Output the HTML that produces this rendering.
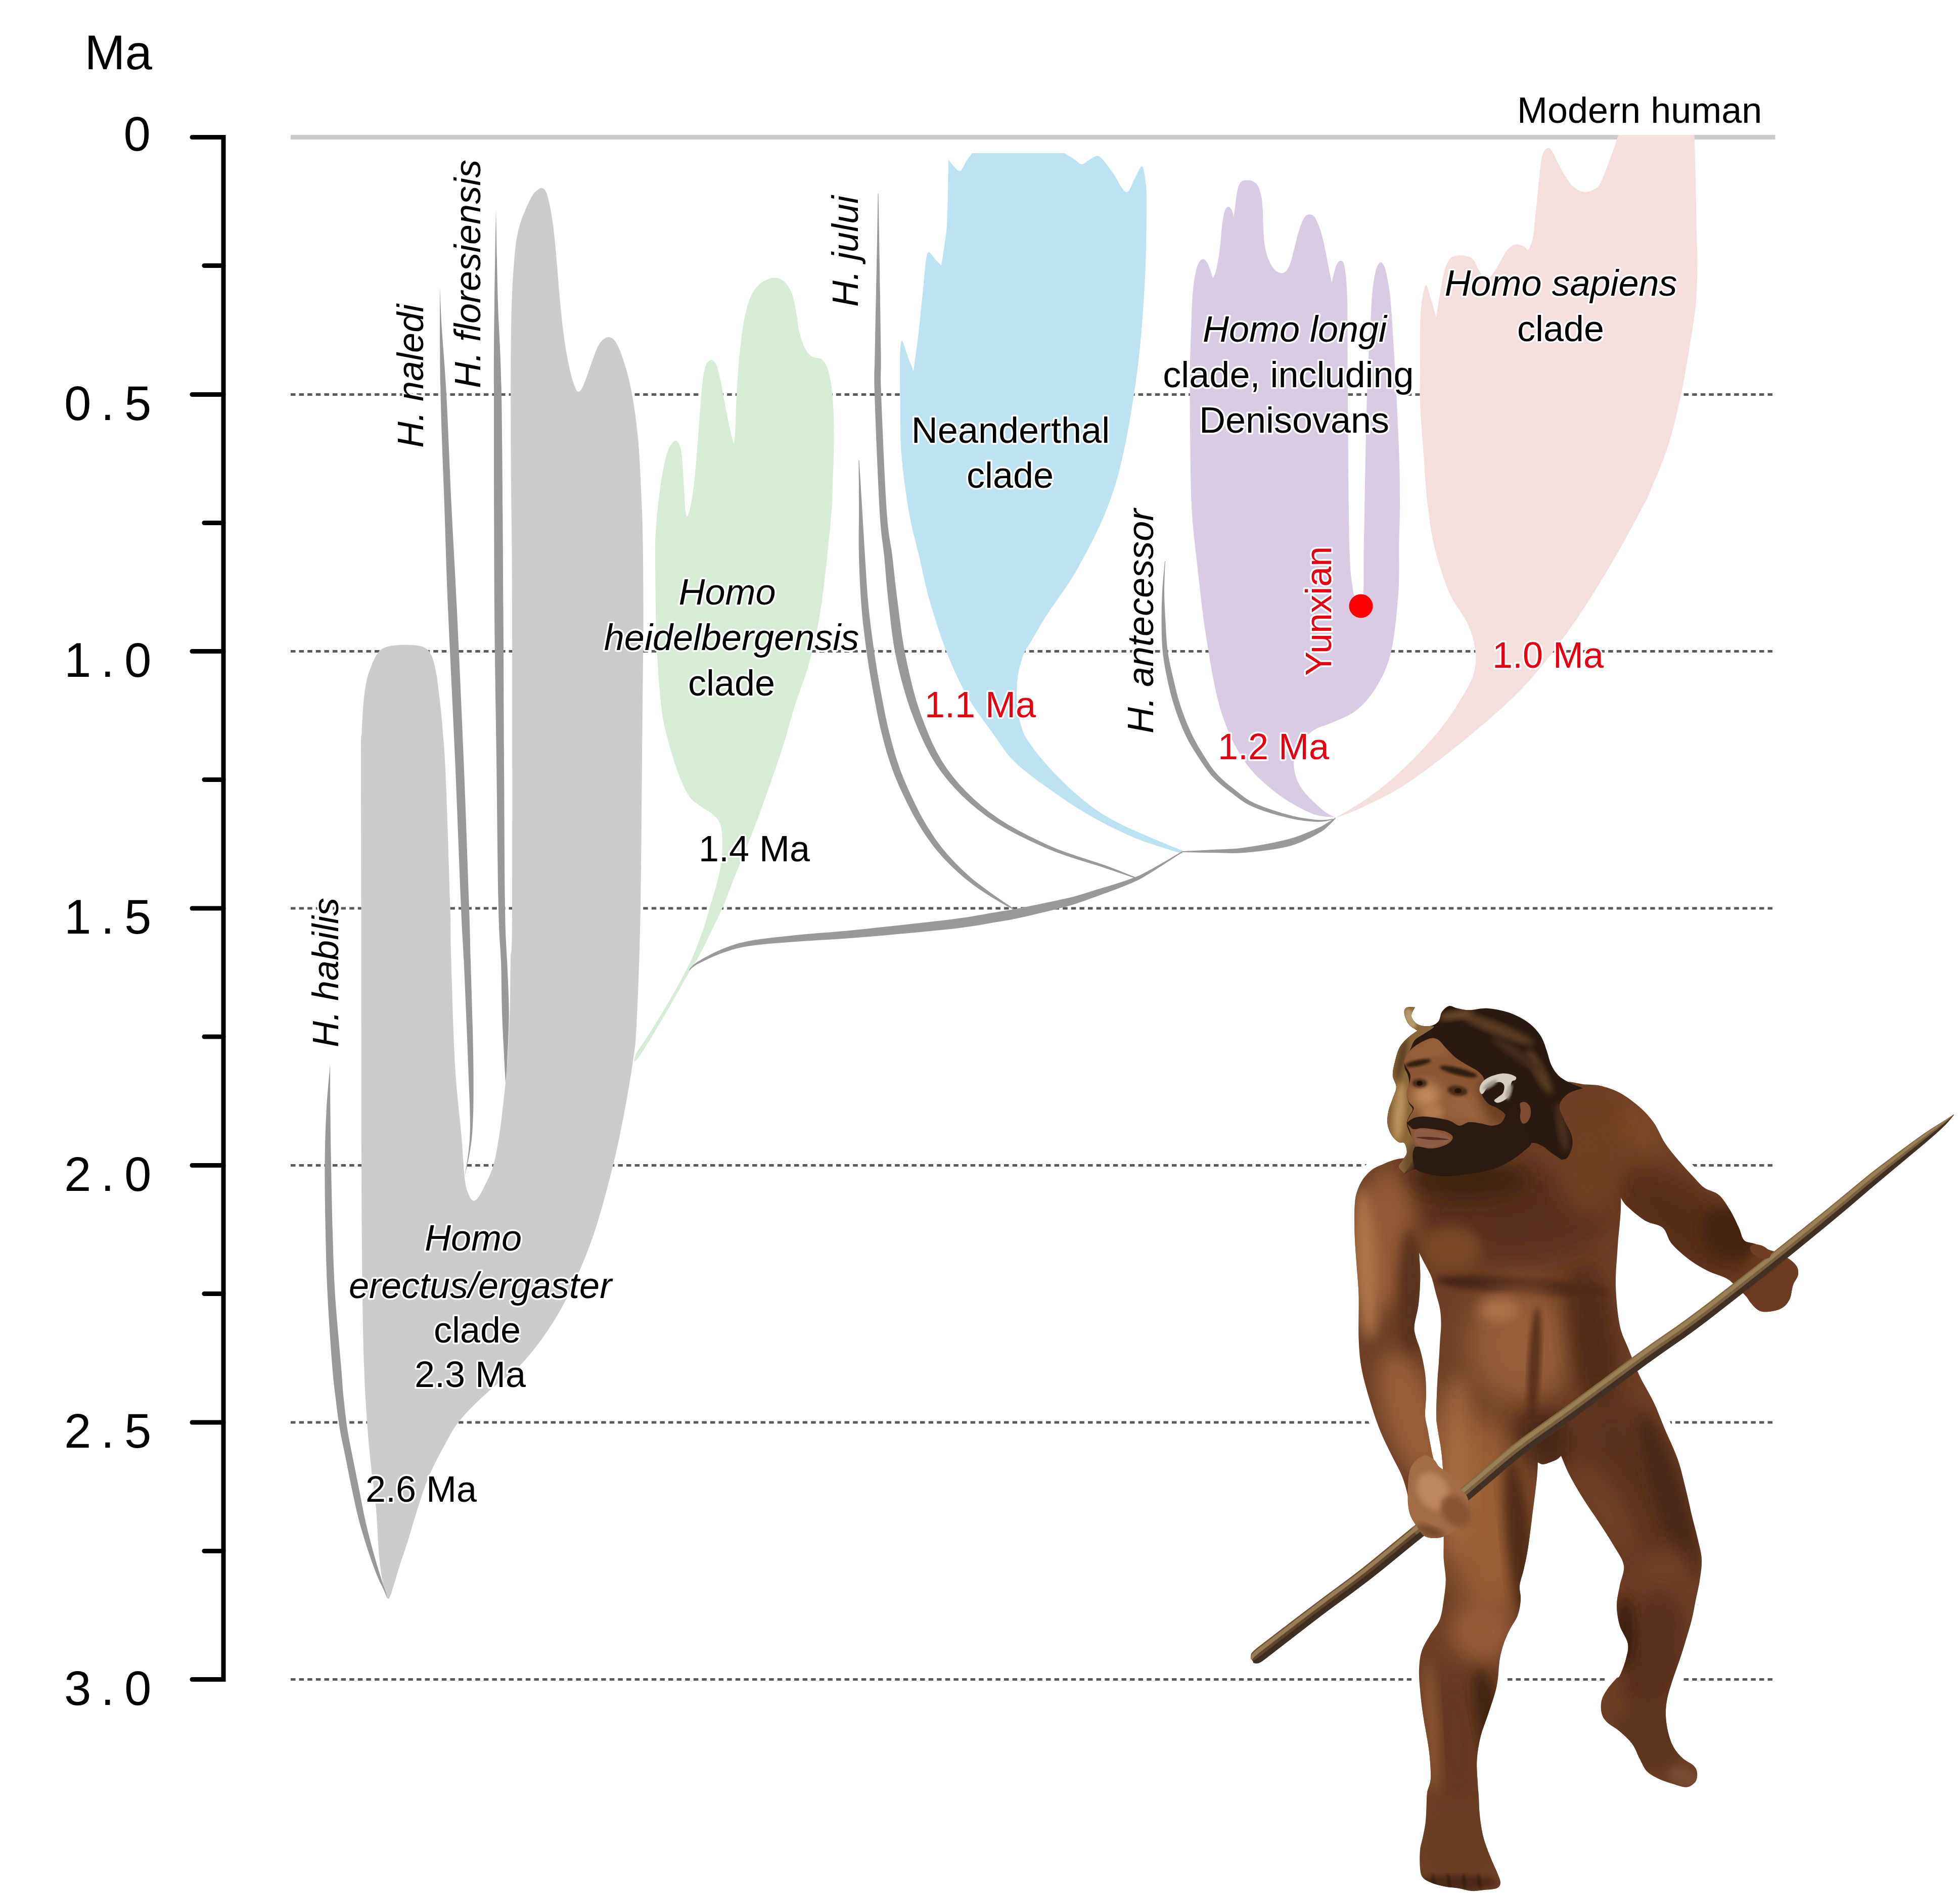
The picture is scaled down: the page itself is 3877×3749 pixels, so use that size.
<!DOCTYPE html>
<html lang="en"><head><meta charset="utf-8"><title>Homo phylogeny</title>
<style>
html,body{margin:0;padding:0;background:#fff}
body{width:3877px;height:3749px;overflow:hidden}
svg{display:block;font-family:"Liberation Sans",sans-serif}
</style></head><body>
<svg width="3877" height="3749" viewBox="0 0 3877 3749">
<rect width="3877" height="3749" fill="#fff"/>
<rect x="575" y="267" width="2936.5" height="9" fill="#cacaca"/>
<line x1="575" y1="780.5" x2="3512" y2="780.5" stroke="#5a5a5a" stroke-width="5.2" stroke-dasharray="9.5 7.1"/>
<line x1="575" y1="1288.5" x2="3512" y2="1288.5" stroke="#5a5a5a" stroke-width="5.2" stroke-dasharray="9.5 7.1"/>
<line x1="575" y1="1797" x2="3512" y2="1797" stroke="#5a5a5a" stroke-width="5.2" stroke-dasharray="9.5 7.1"/>
<line x1="575" y1="2305.5" x2="3512" y2="2305.5" stroke="#5a5a5a" stroke-width="5.2" stroke-dasharray="9.5 7.1"/>
<line x1="575" y1="2814" x2="3512" y2="2814" stroke="#5a5a5a" stroke-width="5.2" stroke-dasharray="9.5 7.1"/>
<line x1="575" y1="3322.5" x2="3512" y2="3322.5" stroke="#5a5a5a" stroke-width="5.2" stroke-dasharray="9.5 7.1"/>
<path d="M768.5 3163C765.3 3164 762.7 3156.8 759.6 3143C756.5 3129.2 752.6 3106.3 750 3080C747.4 3053.7 746.7 3016.7 743.8 2985C740.9 2953.3 735.9 2921.7 732.7 2890C729.5 2858.3 726.9 2826.7 724.8 2795C722.7 2763.3 721.3 2738.5 720 2700C718.7 2661.5 717.8 2630.7 717 2564C716.2 2497.3 715.4 2427.3 715 2300C714.6 2172.7 714.6 1935 714.5 1800C714.4 1665 714 1547.9 714.1 1490C714.2 1432.1 714.8 1465.2 715.3 1452.6C715.8 1440 716.4 1427.3 717.2 1414.6C718.1 1401.9 719 1388.2 720.4 1376.6C721.8 1365 723.4 1354.3 725.5 1345C727.6 1335.7 730.4 1328.3 733.1 1320.9C735.8 1313.5 739.2 1306 741.9 1300.7C744.6 1295.4 746.8 1292.4 749.5 1289.3C752.2 1286.2 754.6 1284.2 758.4 1282.3C762.2 1280.4 766.8 1279 772.3 1277.9C777.8 1276.9 785 1276.3 791.3 1276C797.6 1275.7 804.4 1275.8 810.3 1276C816.2 1276.2 821.9 1276.4 826.8 1277.2C831.6 1278 835.8 1279.2 839.4 1281C843 1282.8 845.8 1284.9 848.3 1288C850.8 1291.1 852.7 1294.8 854.6 1299.4C856.5 1304.1 858.1 1309.4 859.7 1315.9C861.3 1322.5 862.8 1330.7 864.1 1338.7C865.4 1346.7 866.1 1354.5 867.3 1364C868.5 1373.5 869.9 1385 871.1 1395.6C872.3 1406.1 873.3 1416.7 874.3 1427.3C875.2 1437.9 876 1448.5 876.8 1459C877.6 1469.5 878.3 1471.7 879.3 1490C880.3 1508.3 881.1 1517.8 883 1569C884.9 1620.2 888.9 1741.8 890.5 1797C892.1 1852.2 890.9 1848.5 892.5 1900C894.1 1951.5 896.7 2048.8 900 2106C903.3 2163.2 909.2 2205.8 912.4 2243C915.6 2280.2 916.9 2309.8 919 2329C921.1 2348.2 922.4 2350.3 925 2358C927.6 2365.7 931.4 2373 934.7 2375C938 2377 941 2374.8 945 2370C949 2365.2 953.6 2356.7 958.7 2346C963.8 2335.3 970.9 2323.2 975.8 2306C980.7 2288.8 984.6 2265 988 2243C991.4 2221 993.9 2196.8 996.4 2174C998.9 2151.2 1001.3 2134.5 1003.3 2106C1005.3 2077.5 1007.3 2037.3 1008.4 2003C1009.5 1968.7 1009.2 1933.8 1010 1900C1010.8 1866.2 1012.5 1916.7 1013 1800C1013.5 1683.3 1013.3 1340 1013 1200C1012.7 1060 1011.5 1021.6 1011 960C1010.5 898.4 1010.4 868.4 1010.3 830.5C1010.2 792.6 1010.1 765.1 1010.3 732.4C1010.5 699.7 1010.8 661.5 1011.3 634.3C1011.8 607 1012.6 588 1013.5 568.9C1014.4 549.8 1015.5 535.2 1016.8 519.9C1018.1 504.6 1019 490.4 1021.1 477.3C1023.2 464.2 1025.9 452.3 1029.2 441.4C1032.5 430.5 1036.6 421.2 1040.7 411.9C1044.8 402.6 1049.7 392.1 1053.8 385.8C1057.9 379.5 1062.2 376.6 1065.2 374.3C1068.2 372 1069.3 371.2 1071.8 372C1074.2 372.8 1077.5 374.2 1079.9 379.2C1082.4 384.2 1084.3 392.3 1086.5 402.1C1088.7 411.9 1091.1 425 1093 438.1C1094.9 451.2 1096.3 464.2 1097.9 480.6C1099.5 497 1101.2 517.1 1102.8 536.2C1104.4 555.3 1105.9 576 1107.7 595.1C1109.5 614.2 1111.4 633.3 1113.6 650.7C1115.8 668.1 1118.2 685 1120.8 699.7C1123.4 714.4 1126.3 728 1129 738.9C1131.7 749.8 1134.8 759.1 1137.2 765.1C1139.7 771.1 1141.2 774.6 1143.7 774.9C1146.2 775.2 1148.9 772.2 1151.9 766.7C1154.9 761.2 1158.2 751.7 1161.7 742.2C1165.2 732.7 1169.6 719 1173.1 709.5C1176.6 700 1179.6 691.3 1182.9 685C1186.2 678.7 1189.2 674.9 1192.7 671.9C1196.2 668.9 1200.4 666.7 1204.2 667C1208 667.3 1212.1 669.4 1215.6 673.5C1219.1 677.6 1222.1 683.9 1225.4 691.5C1228.7 699.1 1232 708.7 1235.3 719.3C1238.6 729.9 1242.1 742.2 1245.1 755.3C1248.1 768.4 1250.8 782.5 1253.2 797.8C1255.7 813.1 1257.9 829.5 1259.8 846.9C1261.7 864.3 1262.8 869.5 1264.7 902.4C1266.6 935.2 1269.7 994.4 1271 1044C1272.3 1093.6 1272.4 1157.3 1272.6 1200C1272.8 1242.7 1272.4 1250 1272 1300C1271.6 1350 1270.7 1429.8 1270 1500C1269.3 1570.2 1268.8 1657.7 1268 1721C1267.2 1784.3 1266.6 1827.2 1265 1880C1263.4 1932.8 1260.8 2001.3 1258.6 2038C1256.4 2074.7 1255.9 2073 1252 2100C1248.1 2127 1241.6 2165.7 1235 2200C1228.4 2234.3 1222.5 2266 1212.5 2306C1202.5 2346 1188.8 2399.3 1175 2440C1161.2 2480.7 1145 2518.3 1130 2550C1115 2581.7 1101.7 2605 1085 2630C1068.3 2655 1049.4 2679.9 1030 2700C1010.6 2720.1 988.3 2732.8 968.6 2750.7C948.9 2768.6 926.4 2789.7 911.6 2807.6C896.8 2825.5 890.6 2839 880 2858C869.4 2877 857 2900.4 848 2921.6C839 2942.8 832.8 2963.9 826 2985C819.2 3006.1 812.8 3029.5 807 3048C801.2 3066.5 795.7 3081.2 791 3096C786.3 3110.8 782.4 3125.8 778.6 3137C774.9 3148.2 771.7 3162 768.5 3163Z" fill="#cccccc"/>
<path d="M653 2106C651.8 2121.7 647.2 2166.7 645.5 2200C643.8 2233.3 642.8 2266 642.5 2306C642.2 2346 643.1 2397 644 2440C644.9 2483 645.8 2520.7 648 2564C650.2 2607.3 654.4 2666.8 657 2700C659.6 2733.2 661 2741.9 663.5 2763C666 2784.1 668.8 2807.1 672 2826.6C675.2 2846.1 678.9 2860.6 682.8 2880C686.7 2899.4 690.9 2921.9 695.4 2943C699.9 2964.1 704.2 2985.5 709.7 3006.7C715.2 3027.9 722.7 3051.5 728.7 3070C734.8 3088.5 741.3 3105.7 746 3117.5C750.7 3129.3 753.5 3133.6 757 3141C760.5 3148.4 765.3 3158.5 767 3162C765.8 3158.5 762.4 3148.4 760 3141C757.6 3133.6 756 3129.3 752.4 3117.5C748.8 3105.7 743.2 3088.5 738.2 3070C733.2 3051.5 727 3027.9 722.3 3006.7C717.5 2985.5 713.9 2964.1 709.7 2943C705.5 2921.9 700.8 2899.4 697 2880C693.2 2860.6 689.9 2846.1 687 2826.6C684.1 2807.1 681.6 2784.1 679.5 2763C677.4 2741.9 677.2 2733.2 674.5 2700C671.8 2666.8 665.8 2607.3 663 2564C660.2 2520.7 659.3 2483 658 2440C656.7 2397 655.8 2346 655 2306C654.2 2266 653.8 2233.3 653.5 2200C653.2 2166.7 653.1 2121.7 653 2106Z" fill="#999999"/>
<path d="M870 569C870.2 604.2 870 708.2 871.5 780C873 851.8 876.6 930 879 1000C881.4 1070 882.5 1116.7 886 1200C889.5 1283.3 895.7 1400.5 900 1500C904.3 1599.5 909.1 1730.3 912 1797C914.9 1863.7 915.2 1848.5 917.5 1900C919.8 1951.5 924 2048.8 926 2106C928 2163.2 930.8 2205.8 929.6 2243C928.4 2280.2 920.8 2314.7 919 2329C921.5 2314.7 931.1 2280.2 934 2243C936.9 2205.8 936.9 2163.2 936.4 2106C935.9 2048.8 932.4 1951.5 931 1900C929.6 1848.5 930.3 1863.7 928 1797C925.7 1730.3 921.1 1599.5 917 1500C912.9 1400.5 907.5 1283.3 903.5 1200C899.5 1116.7 896.4 1070 893 1000C889.6 930 886.2 838.3 883 780C879.8 721.7 876.2 685.2 874 650C871.8 614.8 870.7 582.5 870 569Z" fill="#999999"/>
<path d="M981 415C980.5 445.8 978.7 539.2 978 600C977.3 660.8 977 680 977 780C977 880 977.2 1080 978 1200C978.8 1320 980.7 1400.5 982 1500C983.3 1599.5 984.5 1730.3 986 1797C987.5 1863.7 989.8 1865.7 991 1900C992.2 1934.3 991.8 1968.7 993 2003C994.2 2037.3 996.8 2082.8 998 2106C999.2 2129.2 999.7 2136 1000 2142C1000.5 2136 1001.9 2129.2 1003 2106C1004.1 2082.8 1006.7 2037.3 1006.7 2003C1006.7 1968.7 1004.3 1934.3 1003 1900C1001.7 1865.7 1000 1863.7 999 1797C998 1730.3 997.6 1599.5 997 1500C996.4 1400.5 996.3 1320 995.5 1200C994.7 1080 993.8 880 992 780C990.2 680 986.8 660.8 985 600C983.2 539.2 981.7 445.8 981 415Z" fill="#999999"/>
<path d="M1296 1100C1295.8 1060.5 1297 1055 1298.1 1037.2C1299.2 1019.4 1300.8 1007.7 1302.5 992.9C1304.2 978.1 1306.2 962.4 1308.4 948.6C1310.6 934.8 1313.1 921 1315.8 910.2C1318.5 899.4 1321.2 890 1324.7 883.6C1328.2 877.2 1333 871.7 1336.5 871.7C1340 871.7 1343.2 876.7 1345.4 883.6C1347.6 890.5 1348.6 899.8 1349.8 913.1C1351 926.4 1351.8 947.6 1352.8 963.4C1353.8 979.2 1354.7 997.9 1355.7 1007.7C1356.7 1017.6 1358.2 1020 1358.7 1022.5C1359.7 1020 1362.4 1017.6 1364.6 1007.7C1366.8 997.9 1369.8 980.6 1372 963.4C1374.2 946.1 1376.2 923.9 1377.9 904.2C1379.6 884.5 1380.8 864.8 1382.3 845.1C1383.8 825.4 1385.2 802.8 1386.7 786C1388.2 769.2 1389.5 755.4 1391.2 744.6C1392.9 733.8 1394.4 726.4 1397.1 721C1399.8 715.6 1404 711.6 1407.4 712.1C1410.9 712.6 1414.8 717 1417.8 723.9C1420.8 730.8 1422.7 742.2 1425.2 753.5C1427.7 764.8 1430.1 779.1 1432.6 791.9C1435.1 804.7 1437.5 818.5 1440 830.3C1442.5 842.1 1445.3 854.8 1447.3 862.9C1449.3 871 1451 876.4 1451.8 879.1C1452.3 873.4 1453.9 860.6 1454.7 845.1C1455.5 829.6 1455.8 805.7 1456.8 786C1457.8 766.3 1459 746.6 1460.6 726.9C1462.2 707.2 1464.4 685 1466.6 667.8C1468.8 650.5 1470.7 637.2 1473.9 623.4C1477.1 609.6 1480.9 595.3 1485.8 585C1490.7 574.7 1496.1 567.3 1503.5 561.4C1510.9 555.5 1522.2 550.4 1530.1 549.6C1538 548.9 1544.9 552 1550.8 556.9C1556.7 561.8 1561.7 569.5 1565.6 579.1C1569.5 588.7 1572 602.3 1574.4 614.6C1576.9 626.9 1577.8 641.7 1580.3 653C1582.8 664.3 1585.8 674.5 1589.2 682.6C1592.7 690.7 1597 697.6 1601 701.8C1605 706 1609 706.2 1612.9 707.7C1616.9 709.2 1621 707.9 1624.7 710.6C1628.4 713.3 1632 717.2 1635 723.9C1638 730.5 1640.4 740.1 1642.4 750.5C1644.4 760.9 1645.8 772.7 1646.9 786C1648 799.3 1648.8 813 1649.2 830.3C1649.6 847.5 1649.6 867.3 1649.2 889.5C1648.8 911.7 1647.8 941.2 1646.9 963.4C1646 985.6 1647.4 985.2 1643.9 1022.5C1640.4 1059.8 1632.8 1140.2 1626 1187C1619.2 1233.8 1612.2 1267.5 1603 1303C1593.8 1338.5 1579.3 1373.3 1571 1400C1562.7 1426.7 1559.5 1441.9 1553 1463C1546.5 1484.1 1539 1506.1 1532 1526.6C1525 1547 1518 1566.3 1511 1585.7C1504 1605.1 1497 1624.4 1490 1642.7C1483 1661 1476 1678 1469 1695.5C1462 1713 1454.5 1731.1 1447.8 1748C1441.1 1764.9 1435.8 1780.6 1428.8 1796.8C1421.8 1813 1413.3 1829.5 1405.8 1845C1398.3 1860.5 1390.5 1876.8 1383.6 1889.5C1376.7 1902.2 1374.1 1904.7 1364.6 1921C1355.1 1937.3 1338.3 1967.5 1326.7 1987.6C1315.1 2007.7 1305.6 2024 1295 2041.4C1284.4 2058.8 1270.2 2082.2 1263.3 2092C1256.4 2101.8 1255.4 2098.7 1253.8 2100C1254.3 2097.6 1256.5 2088.2 1257 2085.8C1262.3 2077.8 1277.1 2056.5 1288.7 2038C1300.3 2019.5 1314.1 1997.2 1326.7 1975C1339.3 1952.8 1354 1927.2 1364.6 1905C1375.1 1882.8 1383.5 1860 1390 1842C1396.5 1824 1398.7 1812.5 1403.4 1796.8C1408.1 1781.1 1414.1 1763.1 1418 1748C1421.9 1732.9 1424.8 1720 1426.6 1706C1428.4 1692 1429.1 1676.7 1428.8 1664C1428.5 1651.3 1427.7 1638.8 1424.5 1630C1421.3 1621.2 1416.5 1617 1409.8 1611C1403.1 1605 1392.2 1600 1384.4 1594C1376.6 1588 1370.1 1585.5 1363 1575C1355.9 1564.5 1349 1549.7 1342 1531C1335 1512.3 1326.6 1484.8 1321 1463C1315.4 1441.2 1312.1 1431.5 1308.4 1400C1304.7 1368.5 1301.1 1324 1299 1274C1296.9 1224 1296.2 1139.5 1296 1100Z" fill="#d6ecd5"/>
<path d="M1876 316C1877.7 318 1882.1 324.3 1886 328C1889.9 331.7 1895.2 339.7 1899.5 338C1903.8 336.3 1908.1 323.8 1912 318C1915.9 312.2 1921.2 305.5 1923 303C1953.4 303 2075.1 303 2105.5 303C2108.8 305 2119.2 311.3 2125 315C2130.8 318.7 2134.5 325.2 2140 325C2145.5 324.8 2152.2 316.5 2158 314C2163.8 311.5 2168 305.7 2175 310C2182 314.3 2191.2 328.3 2200 340C2208.8 351.7 2220 378 2227.5 380C2235 382 2239.8 360.5 2245 352C2250.2 343.5 2255.5 327.7 2259 329C2262.5 330.3 2264.5 347.7 2266 360C2267.5 372.3 2268.2 371.7 2268 403C2267.8 434.3 2267.8 494.8 2265 548C2262.2 601.2 2258.2 663.8 2251 722C2243.8 780.2 2232.7 848.5 2222 897C2211.3 945.5 2202.5 974.3 2187 1013C2171.5 1051.7 2148.3 1095.2 2129 1129C2109.7 1162.8 2085.5 1193.3 2071 1216C2056.5 1238.7 2049.8 1251.5 2042 1265C2034.2 1278.5 2028.9 1283.8 2024 1297C2019.1 1310.2 2014.6 1326.5 2012.7 1344C2010.8 1361.5 2010.8 1384.7 2012.7 1402C2014.6 1419.3 2019.5 1435.8 2024 1448C2028.5 1460.2 2033.8 1466 2040 1475C2046.2 1484 2052.7 1492.2 2061 1502C2069.3 1511.8 2078.5 1522.3 2090 1534C2101.5 1545.7 2116.5 1560.3 2130 1572C2143.5 1583.7 2157.3 1594.7 2171 1604C2184.7 1613.3 2198.3 1620.8 2212 1628C2225.7 1635.2 2238.3 1640.5 2253 1647C2267.7 1653.5 2285.7 1661 2300 1667C2314.3 1673 2332.5 1680.3 2339 1683C2339 1684 2339 1688 2339 1689C2332.5 1687 2314.3 1681.7 2300 1677C2285.7 1672.3 2267.7 1666.7 2253 1661C2238.3 1655.3 2225.7 1649.5 2212 1643C2198.3 1636.5 2184.7 1629.5 2171 1622C2157.3 1614.5 2143.5 1606.5 2130 1598C2116.5 1589.5 2105 1581.5 2090 1571C2075 1560.5 2055 1546.8 2040 1535C2025 1523.2 2012.3 1513.5 2000 1500C1987.7 1486.5 1980.3 1474.2 1966 1454C1951.7 1433.8 1929.5 1405.7 1914 1378.6C1898.5 1351.5 1885.6 1323.4 1873 1291.5C1860.4 1259.6 1847.7 1218.9 1838.5 1187C1829.3 1155.1 1824.8 1129 1818 1100C1811.2 1071 1803.8 1046.8 1798 1013C1792.2 979.2 1785.9 935.8 1783 897C1780.1 858.2 1781 809.5 1780.5 780C1780 750.5 1779.9 735 1780 720C1780.1 705 1780.4 697.7 1781 690C1781.6 682.3 1782.3 675.3 1783.5 674C1784.7 672.7 1785.9 676.7 1788 682C1790.1 687.3 1792.8 697.3 1796 706C1799.2 714.7 1805.2 729.3 1807 734C1808.8 720 1814.7 679 1818 650C1821.3 621 1824.7 583 1827 560C1829.3 537 1830.4 522.2 1832 512C1833.6 501.8 1834.8 500.5 1836.5 499C1838.2 497.5 1839.6 500.5 1842 503C1844.4 505.5 1847.7 510.3 1851 514C1854.3 517.7 1860.2 523.2 1862 525C1863.2 517.5 1867.2 493.5 1869 480C1870.8 466.5 1872 460.7 1873 444C1874 427.3 1874.5 401.3 1875 380C1875.5 358.7 1875.8 326.7 1876 316Z" fill="#bde2f1"/>
<path d="M2354 838.5C2353.5 792.2 2353.6 755.1 2354 722C2354.4 688.9 2355.7 662.8 2356.5 640C2357.3 617.2 2357.7 601 2358.9 585.3C2360.1 569.5 2361.8 556.1 2363.7 545.5C2365.6 534.9 2367.7 527.1 2370.3 521.6C2373 516.1 2376.5 512.4 2379.6 512.4C2382.7 512.4 2385.6 515.2 2388.9 521.6C2392.2 528 2397.7 545.9 2399.5 550.8C2400.6 547.7 2403.9 542 2406.1 532.3C2408.3 522.6 2410.8 508 2412.8 492.5C2414.8 477 2416.3 452.2 2418.1 439.4C2419.9 426.6 2421.4 420.6 2423.4 415.5C2425.4 410.4 2427.8 408.9 2430 408.9C2432.2 408.9 2434.8 412.2 2436.6 415.5C2438.4 418.8 2439.9 426.6 2440.6 428.8C2441.1 425.3 2442.2 416 2443.3 407.6C2444.4 399.2 2445.5 386.1 2447.3 378.4C2449.1 370.6 2451 364.7 2453.9 361.1C2456.8 357.5 2460.5 357 2464.5 356.6C2468.5 356.2 2473.8 356.6 2477.8 358.5C2481.8 360.4 2485.5 362.7 2488.4 367.8C2491.3 372.9 2493.4 381.5 2495 389C2496.6 396.5 2497 402.3 2497.7 412.9C2498.4 423.5 2498.3 440.8 2499 452.7C2499.7 464.6 2500 474.8 2501.6 484.5C2503.2 494.2 2505.2 503 2508.3 511C2511.4 519 2516 527.4 2520.2 532.3C2524.4 537.2 2529.5 539.6 2533.5 540.2C2537.5 540.9 2541 539.3 2544.1 536.2C2547.2 533.1 2549.7 528 2552.1 521.6C2554.5 515.2 2556.5 506.2 2558.7 497.8C2560.9 489.4 2562.9 480.1 2565.3 471.2C2567.7 462.3 2570.7 451.8 2573.3 444.7C2576 437.6 2578.3 432.2 2581.2 428.8C2584.1 425.4 2587.4 424.3 2590.5 424.3C2593.6 424.3 2596.7 425 2599.8 428.8C2602.9 432.6 2606.2 439.9 2609.1 447.4C2612 454.9 2614.7 464.2 2617.1 473.9C2619.5 483.6 2621.5 494.6 2623.7 505.7C2625.9 516.8 2628.5 531.4 2630.3 540.2C2632.1 549.1 2633.6 555.7 2634.3 558.8C2635.2 555.3 2637.8 543.8 2639.6 537.6C2641.4 531.4 2642.9 525.2 2644.9 521.6C2646.9 518 2649.4 515.8 2651.6 515.8C2653.8 515.8 2656.4 516.6 2658.2 521.6C2660 526.6 2661.1 534.9 2662.2 545.5C2663.3 556.1 2664.2 569.5 2664.8 585.3C2665.4 601 2665.3 607.5 2665.5 640C2665.7 672.5 2665.4 708.2 2666 780C2666.6 851.8 2667.5 1008 2669 1071C2670.5 1134 2672.7 1138.2 2675 1158C2677.3 1177.8 2680.2 1183.2 2683 1190C2685.8 1196.8 2689.7 1202.3 2692 1199C2694.3 1195.7 2696 1191.3 2697 1170C2698 1148.7 2696.8 1136 2698 1071C2699.2 1006 2701.8 851.8 2704 780C2706.2 708.2 2709.3 672.5 2711 640C2712.7 607.5 2712.8 599.7 2713.9 585.3C2715.1 570.9 2716.4 562.8 2717.9 553.5C2719.4 544.2 2721 535.4 2723.2 529.6C2725.4 523.9 2728.4 519 2731.1 519C2733.8 519 2736.7 523 2739.1 529.6C2741.5 536.2 2743.7 547.3 2745.7 558.8C2747.7 570.3 2748.8 571.4 2751 598.6C2753.2 625.8 2756.2 672.3 2759 722C2761.8 771.7 2765.8 850.7 2767.5 897C2769.2 943.3 2769 971 2769 1000C2769 1029 2768 1042 2767.5 1071C2767 1100 2768.7 1137.5 2766 1174C2763.3 1210.5 2758.8 1259 2751.5 1290C2744.2 1321 2733.6 1340.7 2722 1360C2710.4 1379.3 2696.5 1394.4 2682 1406C2667.5 1417.6 2649.5 1422.8 2635 1429.6C2620.5 1436.4 2606.6 1438.3 2595 1447C2583.4 1455.7 2571.5 1469.3 2565.7 1481.8C2559.9 1494.3 2558.1 1508.5 2560 1522C2561.9 1535.5 2567.3 1549.4 2577 1563C2586.7 1576.6 2607.2 1594.7 2618 1603.7C2628.8 1612.7 2638 1614.8 2642 1617C2634.2 1615.8 2614.5 1617.5 2595 1609.5C2575.5 1601.5 2547.3 1586.4 2525 1569C2502.7 1551.6 2479.3 1532.2 2461 1505C2442.7 1477.8 2427.5 1446.7 2415 1406C2402.5 1365.3 2393.8 1309.3 2386 1261C2378.2 1212.7 2372.8 1159.5 2368 1116C2363.2 1072.5 2359.3 1046.2 2357 1000C2354.7 953.8 2354.5 884.8 2354 838.5Z" fill="#d9cbe3"/>
<path d="M2809 796.6C2807.7 767.5 2809 762.9 2809 738.5C2809 714.1 2808.5 673.1 2809 650C2809.5 626.9 2810.1 614.3 2812 600C2813.9 585.7 2817.5 565.7 2820.5 564C2823.5 562.3 2826.6 579.3 2830 590C2833.4 600.7 2839.2 621.7 2841 628C2842 621.7 2844.4 605 2847 590C2849.6 575 2853.3 550.8 2856.6 538C2859.9 525.2 2863.4 518.7 2866.7 513.5C2870 508.3 2872.4 508.4 2876.5 507C2880.6 505.6 2885.8 505 2891 505.3C2896.2 505.6 2903.2 506.4 2907.6 508.6C2912 510.8 2914.3 514 2917.3 518.4C2920.3 522.8 2922.6 529.8 2925.5 534.7C2928.4 539.6 2931.8 545.5 2935 548C2938.2 550.5 2940.9 552.8 2945 550C2949.1 547.2 2955.7 537.5 2959.8 531.4C2963.9 525.3 2966.1 519.5 2969.6 513.5C2973.1 507.5 2976.7 500.4 2981 495.5C2985.3 490.6 2990.5 485.5 2995.7 484C3000.9 482.5 3007.7 484.7 3012 486.5C3016.3 488.3 3020.2 493.3 3021.8 494.7C3022.7 493.4 3025.2 491.8 3027 487C3028.8 482.2 3030.5 480.7 3032.7 466C3034.9 451.3 3037.4 423 3040 399C3042.6 375 3045.7 338.5 3048 322C3050.3 305.5 3051.5 304.8 3054 300C3056.5 295.2 3060 292.7 3063 293C3066 293.3 3068.9 297.2 3072 302C3075.1 306.8 3076.4 312.5 3081.6 322C3086.8 331.5 3096.6 350.2 3103 359C3109.4 367.8 3114.4 371.5 3120 375C3125.6 378.5 3131.4 380 3136.7 380C3142 380 3147.4 377.5 3152 375C3156.6 372.5 3159.4 372.7 3164 365C3168.6 357.3 3174.4 341.8 3179.6 328.6C3184.8 315.4 3191.4 296 3195 285.7C3198.6 275.4 3200 270.1 3201 267C3226.1 267 3326.5 267 3351.6 267C3352 281.3 3353.2 318.2 3354 353C3354.8 387.8 3355.9 447.7 3356.5 475.5C3357.1 503.3 3357.8 499.2 3357.5 520C3357.2 540.8 3357 573.2 3354.6 600C3352.2 626.8 3347.8 650.7 3343 680.5C3338.2 710.3 3332.8 745.1 3325.5 779C3318.2 812.9 3309.2 852 3299 884C3288.8 916 3272.7 951.7 3264.6 971C3256.5 990.3 3263.6 975.8 3250.7 1000C3237.8 1024.2 3211.2 1075.4 3187 1116C3162.8 1156.6 3134.6 1203.1 3105.5 1243.8C3076.4 1284.5 3047.5 1323.3 3012.7 1360C2977.9 1396.7 2935.3 1432.1 2896.6 1464C2857.9 1495.9 2814.4 1529.2 2780.5 1551.5C2746.6 1573.8 2716.1 1586.9 2693 1598C2669.9 1609.1 2650.5 1614.7 2642 1618C2653.5 1610.8 2687.9 1591.6 2711 1574.7C2734.1 1557.8 2757.3 1538.9 2780.5 1516.6C2803.7 1494.3 2830.7 1465.2 2850 1441C2869.3 1416.8 2885.4 1390.8 2896.6 1371.5C2907.8 1352.2 2913.6 1340.5 2917 1325C2920.4 1309.5 2919.5 1294.1 2917 1278.6C2914.5 1263.1 2910.2 1249.4 2902 1232C2893.8 1214.6 2878.1 1198.2 2867.5 1174C2856.9 1149.8 2845.8 1116 2838.5 1087C2831.2 1058 2827.6 1029 2824 1000C2820.4 971 2819.5 946.9 2817 913C2814.5 879.1 2810.3 825.7 2809 796.6Z" fill="#f5dfdd"/>
<path d="M1363.4 1919.9L1364.9 1918.5L1366.8 1916.7L1369.2 1914.6L1372.2 1912.2L1376 1909.5L1381 1906.7L1387.5 1903.5L1395.2 1899.7L1403.9 1895.6L1413.1 1891.6L1422.3 1887.8L1431.3 1884.5L1439.7 1881.7L1447.8 1879.1L1455.9 1876.8L1464.6 1874.8L1474.4 1872.8L1485.8 1870.9L1499.2 1869.2L1514.3 1867.7L1530.6 1866.2L1547.4 1864.9L1564.3 1863.7L1580.6 1862.5L1596 1861.4L1611 1860.5L1626.1 1859.6L1641.6 1858.7L1658 1857.7L1675.6 1856.5L1695.1 1854.9L1716.1 1853.2L1738 1851.4L1759.9 1849.4L1781.1 1847.5L1800.9 1845.7L1819.4 1844L1837.3 1842.3L1854.6 1840.6L1871.1 1838.9L1886.7 1837.2L1901.3 1835.4L1914.7 1833.6L1927.1 1831.7L1938.5 1829.9L1949.1 1828L1959.1 1826.3L1968.6 1824.6L1977.1 1823.2L1984.3 1822.1L1991 1821L1997.8 1819.7L2005.6 1818.3L2014.9 1816.3L2026.4 1813.7L2039.7 1810.7L2053.9 1807.3L2067.9 1804L2080.9 1800.8L2091.9 1798L2100.5 1795.8L2107.6 1794L2113.6 1792.3L2119.2 1790.7L2124.8 1788.9L2131.1 1786.9L2138 1784.6L2145.1 1782.2L2152.2 1779.6L2159.3 1777L2166.2 1774.4L2173 1771.9L2179.6 1769.6L2186 1767.2L2192.4 1764.9L2198.8 1762.6L2205.2 1760.2L2211.7 1757.7L2218.3 1755.1L2225.1 1752.4L2231.9 1749.6L2238.5 1746.9L2244.8 1744.1L2250.5 1741.4L2255.7 1738.8L2260.2 1736.3L2264.4 1733.8L2268.4 1731.3L2272.3 1728.9L2276.4 1726.4L2280.4 1723.9L2284.2 1721.5L2287.9 1719.2L2291.8 1716.6L2296.1 1713.9L2301 1710.7L2307.1 1706.8L2314.3 1702.2L2321.8 1697.3L2329 1692.6L2335.2 1688.7L2339.5 1685.9L2338.5 1684.1L2334 1686.8L2327.7 1690.5L2320.3 1694.8L2312.5 1699.4L2305.2 1703.7L2299 1707.3L2293.9 1710.2L2289.5 1712.8L2285.5 1715.1L2281.6 1717.3L2277.7 1719.4L2273.6 1721.6L2269.4 1723.9L2265.4 1726.1L2261.3 1728.2L2257.1 1730.3L2252.5 1732.4L2247.5 1734.6L2241.7 1736.8L2235.4 1739.1L2228.8 1741.5L2221.9 1743.8L2215 1746.1L2208.3 1748.3L2201.8 1750.3L2195.4 1752.3L2188.9 1754.2L2182.4 1756.1L2175.8 1758L2169 1760.1L2162.1 1762.2L2155 1764.5L2147.8 1766.8L2140.7 1769L2133.7 1771.1L2126.9 1773.1L2120.7 1774.7L2115.2 1776.1L2109.8 1777.3L2103.8 1778.6L2096.8 1780.1L2088.1 1782L2077.1 1784.3L2064.1 1787L2050 1789.9L2035.8 1792.8L2022.5 1795.5L2011.1 1797.7L2002 1799.4L1994.5 1800.7L1987.8 1801.8L1981.2 1802.8L1974 1804L1965.4 1805.4L1955.7 1807.1L1945.7 1808.9L1935.2 1810.8L1924 1812.7L1911.9 1814.7L1898.7 1816.6L1884.4 1818.5L1869 1820.4L1852.6 1822.3L1835.5 1824.3L1817.6 1826.2L1799.1 1828.3L1779.4 1830.5L1758.3 1832.8L1736.4 1835.1L1714.6 1837.5L1693.7 1839.6L1674.4 1841.5L1656.9 1843.1L1640.6 1844.4L1625.2 1845.6L1610.1 1846.8L1595 1848L1579.4 1849.5L1563.2 1851.2L1546.3 1852.9L1529.4 1854.8L1513.1 1856.7L1497.8 1858.8L1484.2 1861.1L1472.5 1863.4L1462.4 1865.8L1453.5 1868.4L1445.2 1871.2L1437.1 1874.2L1428.7 1877.5L1419.6 1881.4L1410.4 1885.8L1401.4 1890.4L1392.8 1895.1L1385.3 1899.4L1379 1903.3L1374.1 1906.7L1370.3 1910L1367.6 1912.9L1365.5 1915.5L1364 1917.6L1362.6 1919.1Z" fill="#999999"/>
<path d="M2339 1686L2345.7 1686.1L2354.8 1686.3L2365.7 1686.5L2377.4 1686.7L2389.2 1686.9L2400.1 1687L2409.9 1687.2L2419.4 1687.5L2428.9 1687.8L2438.9 1688L2449.7 1687.7L2461.5 1687L2475 1685.7L2490 1684.2L2505.7 1682.3L2521.4 1680L2536.3 1677.3L2549.8 1674.3L2561.9 1670.6L2573.1 1666.3L2583.4 1661.6L2592.7 1656.9L2601 1652.5L2608.2 1648.5L2614.3 1644.9L2619.2 1641.4L2623.1 1638.2L2626.2 1635.2L2628.9 1632.5L2631.5 1630L2634.1 1627.5L2636.4 1625.2L2638.4 1623L2640 1621.1L2641.3 1619.6L2642.3 1618.4L2641.7 1617.6L2640.4 1618.5L2638.7 1619.6L2636.6 1621L2634.2 1622.5L2631.5 1624.2L2628.5 1626L2625.3 1628L2622.1 1630L2618.7 1632.1L2614.7 1634.4L2609.9 1636.8L2603.8 1639.5L2596.3 1642.7L2587.8 1646.3L2578.4 1650.1L2568.3 1653.9L2557.6 1657.5L2546.2 1660.7L2533.4 1663.8L2519 1666.9L2503.7 1669.9L2488.3 1672.7L2473.7 1675.1L2460.5 1677L2449 1678.4L2438.6 1679.3L2428.8 1679.8L2419.4 1680.2L2409.8 1680.5L2399.9 1681L2389.1 1681.6L2377.4 1682.2L2365.7 1682.8L2354.8 1683.3L2345.6 1683.7L2339 1684Z" fill="#999999"/>
<path d="M2304 1110L2303.4 1116.5L2302.6 1125.4L2301.6 1136.1L2300.6 1147.5L2299.7 1159.1L2299 1169.9L2298.5 1180.2L2298.1 1190.7L2297.8 1201.2L2297.7 1211.6L2297.6 1222L2297.6 1232.1L2297.7 1242L2297.8 1251.8L2298.1 1261.5L2298.5 1271.1L2299.1 1280.8L2300 1290.6L2301.2 1300.5L2302.7 1310.5L2304.4 1320.4L2306.2 1330.3L2308.2 1340L2310.1 1349.3L2312.2 1358.4L2314.3 1367.2L2316.5 1375.9L2318.9 1384.5L2321.5 1393.1L2324.3 1401.9L2327.4 1410.9L2330.7 1420.1L2334.3 1429.3L2337.9 1438.4L2341.7 1447.2L2345.6 1455.6L2349.5 1463.4L2353.5 1470.7L2357.6 1477.8L2361.7 1484.6L2366 1491.3L2370.4 1498L2374.8 1504.7L2379.3 1511.4L2383.9 1518.1L2388.7 1524.7L2393.8 1531.2L2399.3 1537.4L2405.2 1543.3L2411.4 1549L2417.8 1554.4L2424.3 1559.7L2430.8 1564.7L2437.2 1569.5L2443.2 1574.2L2448.9 1578.6L2454.8 1583L2461.1 1587.3L2468.4 1591.5L2476.9 1595.6L2487.1 1599.8L2498.6 1603.9L2511 1607.9L2523.6 1611.7L2535.9 1615.1L2547.3 1617.9L2558 1620.2L2568.6 1622.2L2578.8 1623.7L2588.5 1624.8L2597.6 1625.6L2605.9 1626L2613.6 1625.8L2620.8 1625L2627.3 1623.7L2632.9 1622.4L2637.6 1621.2L2641.1 1620.5L2640.9 1619.5L2637.3 1619.9L2632.6 1620.6L2626.9 1621.4L2620.5 1622L2613.5 1622.3L2606.1 1622L2598 1621.2L2589.1 1620.1L2579.5 1618.7L2569.5 1616.9L2559.2 1614.7L2548.7 1612.1L2537.6 1609L2525.5 1605.3L2513.2 1601.2L2501.1 1596.9L2489.9 1592.6L2480.3 1588.4L2472.3 1584.3L2465.7 1580.2L2459.8 1576.1L2454.3 1571.8L2448.7 1567.3L2442.8 1562.5L2436.5 1557.5L2430.1 1552.4L2423.9 1547.2L2417.8 1541.8L2412.1 1536.3L2406.7 1530.6L2401.7 1524.7L2397 1518.5L2392.5 1512.1L2388.2 1505.5L2383.9 1498.8L2379.6 1492L2375.5 1485.3L2371.4 1478.7L2367.6 1472L2363.8 1465.1L2360.1 1458L2356.4 1450.4L2352.8 1442.3L2349.1 1433.8L2345.5 1424.9L2342 1415.9L2338.7 1406.9L2335.7 1398.1L2333 1389.6L2330.5 1381.2L2328.2 1372.8L2326.1 1364.3L2324 1355.6L2321.9 1346.7L2319.7 1337.4L2317.4 1327.9L2315.3 1318.3L2313.3 1308.6L2311.5 1299L2310 1289.4L2308.8 1279.9L2307.9 1270.5L2307.2 1261L2306.6 1251.5L2306.1 1241.8L2305.6 1231.9L2305 1221.8L2304.4 1211.5L2303.9 1201.1L2303.5 1190.7L2303.1 1180.3L2303 1170.1L2303.1 1159.3L2303.4 1147.7L2303.8 1136.2L2304.3 1125.5L2304.7 1116.5L2305 1110Z" fill="#999999"/>
<path d="M1698.5 911L1698.6 920.6L1698.6 933.7L1698.8 949.3L1698.9 966.3L1698.9 983.6L1699 1000.1L1699 1016.1L1698.9 1032.6L1698.7 1049.4L1698.7 1066.4L1698.7 1083.4L1699 1100.3L1699.5 1117.1L1700.1 1134L1700.9 1150.9L1701.8 1167.7L1702.8 1184.3L1704 1200.6L1705.4 1216.6L1707 1232.4L1708.8 1248L1710.7 1263.2L1712.6 1278.1L1714.6 1292.6L1716.6 1306.5L1718.6 1319.8L1720.8 1332.8L1723 1345.6L1725.3 1358.4L1727.6 1371.4L1730.1 1384.5L1732.6 1397.7L1735.1 1410.9L1737.8 1424L1740.7 1437L1743.7 1449.8L1746.9 1462.3L1750.2 1474.7L1753.6 1486.9L1757.3 1498.9L1761.1 1510.8L1765.2 1522.4L1769.5 1533.9L1774.2 1545.3L1779 1556.4L1784 1567.2L1789 1577.7L1793.9 1587.9L1798.9 1597.8L1803.8 1607.4L1808.8 1616.7L1814 1625.7L1819.2 1634.6L1824.7 1643.3L1830.3 1651.8L1836 1660L1841.8 1668.1L1847.8 1676L1854.1 1683.8L1860.8 1691.6L1868 1699.4L1875.5 1707.2L1883.3 1714.9L1891.3 1722.4L1899.2 1729.6L1907 1736.4L1914.7 1742.6L1922.2 1748.4L1929.7 1753.9L1937.3 1759.2L1945.1 1764.4L1953.2 1769.7L1962.3 1775.4L1972.4 1781.4L1982.7 1787.4L1992.4 1792.9L2000.6 1797.5L2006.5 1800.8L2007.5 1799.2L2001.9 1795.4L1994.1 1790.1L1984.9 1783.9L1975.1 1777.2L1965.5 1770.5L1956.8 1764.3L1949.1 1758.6L1941.7 1753.1L1934.4 1747.6L1927.3 1741.9L1920.2 1736L1913 1729.6L1905.5 1722.7L1898 1715.4L1890.4 1707.8L1883 1700L1875.9 1692.2L1869.2 1684.4L1862.9 1676.7L1857 1669L1851.3 1661.2L1845.9 1653.2L1840.6 1645.1L1835.3 1636.7L1830.1 1628.1L1825.1 1619.4L1820.3 1610.5L1815.5 1601.3L1810.8 1591.8L1806.1 1582.1L1801.3 1571.9L1796.6 1561.5L1791.9 1550.8L1787.3 1539.8L1782.9 1528.8L1778.8 1517.6L1775 1506.2L1771.3 1494.6L1767.9 1482.8L1764.6 1470.8L1761.4 1458.6L1758.3 1446.2L1755.3 1433.7L1752.5 1420.9L1749.9 1407.9L1747.3 1394.8L1744.8 1381.7L1742.4 1368.6L1740 1355.8L1737.8 1343.1L1735.6 1330.4L1733.5 1317.5L1731.5 1304.2L1729.4 1290.4L1727.4 1276.1L1725.3 1261.3L1723.3 1246.2L1721.4 1230.8L1719.6 1215.2L1718 1199.4L1716.5 1183.3L1715.3 1166.9L1714.1 1150.2L1713.1 1133.3L1712 1116.5L1711 1099.7L1709.9 1083L1708.9 1066.1L1707.9 1049.2L1706.9 1032.4L1706 1015.9L1705 999.9L1704 983.4L1702.9 966.2L1701.9 949.2L1700.9 933.6L1700.1 920.5L1699.5 911Z" fill="#999999"/>
<path d="M1736.5 383L1736.3 394.8L1736.1 410.3L1735.8 429L1735.4 450.5L1735 474.3L1734.5 500L1733.9 529.9L1733.2 565L1732.4 602.3L1731.6 639.1L1731 672.6L1730.5 700L1730.1 718.4L1729.7 729.7L1729.4 737.8L1729.3 746.5L1729.4 759.4L1730 780.2L1731.1 811.9L1732.6 852L1734.4 896.4L1736.4 940.8L1738.3 981.2L1740 1013.5L1741.6 1036.6L1743.2 1053.6L1744.7 1066.7L1746.2 1077.6L1747.6 1088.3L1749.1 1100.9L1750.3 1115L1751.5 1128.8L1752.6 1142.7L1753.9 1157L1755.3 1172L1757.1 1188.1L1759 1205.3L1761 1223.6L1763.2 1242.7L1765.8 1262.3L1768.9 1282.2L1772.7 1301.9L1777.2 1321.7L1782.1 1341.9L1787.7 1362.3L1793.7 1382.6L1800.3 1402.5L1807.5 1421.8L1815 1440.4L1822.9 1458.7L1831.3 1476.6L1840.6 1494.2L1850.8 1511.3L1862.2 1527.8L1874.8 1543.8L1888.4 1559.2L1903 1574.2L1918.4 1588.5L1934.7 1602.1L1951.6 1615L1969.7 1627.2L1988.9 1638.7L2008.8 1649.5L2029.1 1659.6L2049.4 1669.1L2069.3 1677.9L2089.5 1686.1L2110.4 1693.5L2131.2 1700.2L2151.3 1706.4L2169.8 1712.1L2186.2 1717.4L2200.6 1722.3L2213.8 1726.8L2225.5 1730.8L2235.6 1734.3L2244 1737.2L2250.3 1739.4L2251.1 1737.6L2244.8 1735L2236.6 1731.7L2226.7 1727.7L2215.2 1723.1L2202.2 1718L2187.8 1712.6L2171.5 1707L2153 1701L2133 1694.5L2112.4 1687.5L2091.9 1679.9L2072.1 1671.5L2052.6 1662.3L2032.7 1652.5L2012.8 1642L1993.4 1631L1974.9 1619.3L1957.6 1607L1941.3 1594L1925.8 1580.3L1911.1 1566L1897.3 1551.2L1884.5 1535.9L1872.8 1520.2L1862.2 1504.1L1852.9 1487.5L1844.4 1470.4L1836.7 1452.7L1829.4 1434.6L1822.5 1416.2L1816 1397.3L1810.1 1377.7L1804.8 1357.7L1799.9 1337.6L1795.4 1317.6L1791.3 1298.1L1787.7 1278.9L1784.5 1259.5L1781.8 1240.3L1779.4 1221.4L1777.1 1203.2L1774.9 1185.9L1772.9 1170L1771.2 1155.2L1769.6 1141.1L1768.1 1127.2L1766.6 1113.4L1764.9 1099.1L1763.2 1086.1L1761.3 1075.2L1759.5 1064.6L1757.7 1052L1755.8 1035.3L1754 1012.5L1752 980.5L1749.9 940.2L1747.8 895.8L1745.9 851.5L1744.2 811.4L1743 779.8L1742.3 759L1742.1 746.4L1742.2 738.1L1742.5 730.1L1742.6 718.6L1742.5 700L1742.1 672.7L1741.6 639.2L1741.1 602.3L1740.5 565L1740 529.9L1739.5 500L1739.1 474.3L1738.7 450.5L1738.3 429L1738 410.3L1737.7 394.8L1737.5 383Z" fill="#999999"/>
<circle cx="2692" cy="1199" r="23.5" fill="#ff0000"/>
<g stroke="#000" stroke-width="9" fill="none" stroke-linecap="round" stroke-linejoin="miter">
<path d="M380 271.5H442V3322.5H380"/>
<path d="M380 780.5H442"/>
<path d="M380 1288.5H442"/>
<path d="M380 1797H442"/>
<path d="M380 2305.5H442"/>
<path d="M380 2814H442"/>
<path d="M404 525.5H442"/>
<path d="M404 1034.5H442"/>
<path d="M404 1542.5H442"/>
<path d="M404 2051H442"/>
<path d="M404 2559.5H442"/>
<path d="M404 3068.5H442"/>
</g>
<g font-size="96" fill="#000">
<text x="167.5" y="137">Ma</text>
<text x="244.5" y="298">0</text>
<text x="127 199.6 246" y="830.5">0.5</text>
<text x="127 199.6 246" y="1338.5">1.0</text>
<text x="127 199.6 246" y="1847">1.5</text>
<text x="127 199.6 246" y="2355.5">2.0</text>
<text x="127 199.6 246" y="2864">2.5</text>
<text x="127 199.6 246" y="3372.5">3.0</text>
</g>
<g font-size="72" fill="#000" stroke="#fff" stroke-width="7" stroke-linejoin="round" paint-order="stroke" text-anchor="middle">
<text x="3001" y="242.5" text-anchor="start">Modern human</text>
<text x="936" y="2474" font-style="italic">Homo</text>
<text x="950" y="2568" font-style="italic">erectus/ergaster</text>
<text x="944" y="2655.5">clade</text>
<text x="930" y="2744">2.3 Ma</text>
<text x="833" y="2971">2.6 Ma</text>
<text x="1438.5" y="1195.5" font-style="italic">Homo</text>
<text x="1447" y="1286" font-style="italic">heidelbergensis</text>
<text x="1447" y="1376">clade</text>
<text x="1492" y="1704">1.4 Ma</text>
<text x="1999" y="876">Neanderthal</text>
<text x="1998" y="965">clade</text>
<text x="1939" y="1419" fill="#e60012">1.1 Ma</text>
<text x="2561" y="676" font-style="italic">Homo longi</text>
<text x="2548.5" y="766">clade, including</text>
<text x="2560" y="856">Denisovans</text>
<text x="2519" y="1502" fill="#e60012">1.2 Ma</text>
<text x="3087.5" y="585" font-style="italic">Homo sapiens</text>
<text x="3087" y="675">clade</text>
<text x="3062" y="1320.5" fill="#e60012">1.0 Ma</text>
<text font-style="italic" text-anchor="start" transform="translate(668.5 2072) rotate(-90)">H. habilis</text>
<text font-style="italic" text-anchor="start" transform="translate(836.5 886) rotate(-90)">H. naledi</text>
<text font-style="italic" text-anchor="start" transform="translate(950 768) rotate(-90)">H. floresiensis</text>
<text font-style="italic" text-anchor="start" transform="translate(1696.7 607) rotate(-90)">H. jului</text>
<text font-style="italic" text-anchor="start" transform="translate(2281 1451) rotate(-90)">H. antecessor</text>
<text text-anchor="start" fill="#e60012" transform="translate(2632.5 1337) rotate(-90)">Yunxian</text>
</g>
<defs>
<filter id="b6" x="-20%" y="-20%" width="140%" height="140%"><feGaussianBlur stdDeviation="6"/></filter>
<filter id="b12" x="-30%" y="-30%" width="160%" height="160%"><feGaussianBlur stdDeviation="12"/></filter>
<filter id="b20" x="-40%" y="-40%" width="180%" height="180%"><feGaussianBlur stdDeviation="20"/></filter>
<filter id="b30" x="-50%" y="-50%" width="200%" height="200%"><feGaussianBlur stdDeviation="30"/></filter>
<filter id="b3" x="-20%" y="-20%" width="140%" height="140%"><feGaussianBlur stdDeviation="2.5"/></filter>
<clipPath id="cBody"><path d="M2800 2300C2784.5 2336.3 2805.8 2448.3 2807 2478C2809 2481.9 2814.8 2493.2 2818.9 2501.3C2823 2509.4 2828 2517.2 2831.5 2526.6C2835 2536 2837.2 2547.4 2840 2558C2842.8 2568.6 2846.7 2579.4 2848.4 2590C2850.2 2600.6 2850.5 2611.1 2850.5 2621.6C2850.5 2632.1 2849.2 2640.7 2848.4 2653C2847.7 2665.3 2846.9 2681.4 2846 2695.5C2845.1 2709.6 2843.8 2720.3 2843 2737.7C2842.2 2755.1 2840.8 2784.9 2841 2800C2841.2 2815.1 2842.2 2814.8 2844 2828C2845.8 2841.2 2850 2859.2 2852 2879.5C2854 2899.8 2855.4 2922.3 2856 2950C2856.6 2977.7 2855.8 3023.3 2855.8 3045.8C2855.8 3068.3 2855.1 3071.8 2855.8 3085C2856.5 3098.2 2859.8 3111.8 2859.8 3125C2859.8 3138.2 2857.8 3151.3 2855.8 3164.5C2853.8 3177.7 2852.6 3192.1 2848 3204C2843.4 3215.9 2834 3225.2 2828 3235.7C2822 3246.2 2815.5 3255.8 2812 3267C2808.5 3278.2 2807.5 3290.4 2807 3303C2806.5 3315.6 2807.7 3327.6 2809 3342.6C2810.3 3357.6 2812 3372.8 2815 3393C2818 3413.2 2824.3 3443.2 2826.8 3464C2829.3 3484.8 2830.6 3504.3 2830 3518C2829.4 3531.7 2824.4 3536.3 2823 3546.4C2821.6 3556.5 2822 3568.5 2821.4 3578.6C2820.8 3588.7 2820.8 3597.5 2819.6 3607C2818.4 3616.5 2816.1 3626.8 2814.3 3635.7C2812.5 3644.6 2809.9 3650.6 2809 3660.7C2808.1 3670.8 2808.1 3687.1 2809 3696C2809.9 3704.9 2810.5 3709.5 2814.3 3714.3C2818.1 3719.1 2824.9 3722.1 2832 3725C2839.1 3727.9 2848.1 3730.2 2857 3732C2865.9 3733.8 2876.8 3734.2 2885.7 3735.7C2894.6 3737.2 2902.4 3740.4 2910.7 3741C2919 3741.6 2927.4 3739.9 2935.7 3739C2944 3738.1 2955.3 3738 2960.7 3735.7C2966.1 3733.4 2967.7 3729.8 2968 3725C2968.3 3720.2 2965.5 3714.7 2962.5 3707C2959.5 3699.3 2953.9 3688.1 2950 3678.6C2946.1 3669.1 2942 3658.9 2939 3650C2936 3641.1 2934 3635.2 2932 3625C2930 3614.8 2928 3600.9 2926.8 3589C2925.6 3577.1 2925.6 3563.7 2925 3553.6C2924.4 3543.5 2923.6 3540.5 2923 3528.6C2922.4 3516.7 2920.5 3497.5 2921.4 3482C2922.3 3466.5 2925 3450.5 2928.6 3435.7C2932.2 3420.9 2938.3 3407.3 2943 3393C2947.7 3378.7 2953.7 3361.7 2957 3350C2960.3 3338.3 2961.1 3334 2962.7 3322.8C2964.3 3311.6 2964.6 3294.9 2966.6 3283C2968.6 3271.1 2971.2 3261.4 2974.5 3251.6C2977.8 3241.8 2981.8 3233.2 2986.4 3223.9C2991 3214.6 2998.4 3205.9 3002 3196C3005.6 3186.1 3007.3 3174.4 3008 3164.5C3008.7 3154.6 3005 3146.7 3006 3136.8C3007 3126.9 3011.3 3116.9 3014 3105C3016.7 3093.1 3019.3 3082.1 3022 3065.6C3024.7 3049.1 3027 3029.1 3030 3006C3033 2982.9 3037.8 2945.8 3039.8 2927C3041.8 2908.2 3041.5 2898.7 3041.8 2893C3043.5 2893.7 3048 2897 3052 2897C3056 2897 3061.3 2894.7 3066 2893C3070.7 2891.3 3076.3 2889.2 3080 2887C3083.7 2884.8 3086.7 2881.2 3088 2880C3090.8 2886.5 3097.5 2904.6 3105 2919C3112.5 2933.4 3122.9 2950.8 3132.8 2966.6C3142.7 2982.4 3154.6 2998.8 3164.5 3014C3174.4 3029.2 3184.1 3043.8 3192 3057.6C3199.9 3071.4 3210 3083.8 3212 3097C3214 3110.2 3206.3 3123.6 3204 3136.8C3201.7 3150 3198 3162.8 3198 3176C3198 3189.2 3200.3 3203.4 3204 3216C3207.7 3228.6 3218 3240.4 3220 3251.6C3222 3262.8 3218.7 3272.4 3216 3283C3213.3 3293.6 3207.3 3308.6 3204 3315C3200.7 3321.4 3200.6 3316.7 3196.4 3321.4C3192.2 3326.1 3183.3 3335.8 3178.6 3343C3173.9 3350.2 3169.8 3356.6 3168 3364.3C3166.2 3372 3166.2 3381.9 3168 3389C3169.8 3396.1 3172.7 3401 3178.6 3407C3184.5 3413 3195.3 3417.8 3203.6 3425C3211.9 3432.2 3222 3441.1 3228.6 3450C3235.2 3458.9 3238.3 3469.7 3243 3478.6C3247.7 3487.5 3251.1 3497 3257 3503.6C3262.9 3510.2 3270.3 3513.8 3278.6 3518C3286.9 3522.2 3297.5 3525.7 3307 3528.6C3316.5 3531.5 3327.9 3536.3 3335.7 3535.7C3343.5 3535.1 3350 3529.8 3353.6 3525C3357.2 3520.2 3357.6 3512.3 3357 3507C3356.4 3501.7 3354.7 3497.7 3350 3493C3345.3 3488.3 3335.2 3484.6 3328.6 3478.6C3322 3472.6 3315.5 3465.3 3310.7 3457C3305.9 3448.7 3302.6 3439.3 3300 3428.6C3297.4 3417.9 3295.3 3404.4 3295 3393C3294.7 3381.6 3295.7 3371.8 3298 3360C3300.3 3348.2 3305 3334.5 3309 3322C3313 3309.5 3317.8 3297.5 3322 3285C3326.2 3272.5 3329.9 3260.5 3334 3247C3338.1 3233.5 3343.1 3217.8 3346.5 3204C3349.9 3190.2 3351.8 3177.7 3354.5 3164.5C3357.2 3151.3 3360.5 3138.2 3362.4 3125C3364.3 3111.8 3366.7 3098.2 3366 3085C3365.3 3071.8 3361.8 3060.3 3358.5 3045.8C3355.2 3031.3 3350.5 3014.5 3346.5 2998C3342.5 2981.5 3339.3 2965.2 3334.7 2946.8C3330.1 2928.4 3325.8 2907.5 3318.8 2887.5C3311.9 2867.5 3300.9 2845.8 3293 2827C3285.1 2808.2 3279.8 2792.6 3271.5 2775C3263.2 2757.4 3251.4 2739.4 3243 2721.6C3234.6 2703.8 3227.5 2684.6 3221 2668C3214.5 2651.4 3208.2 2642.7 3204 2622C3199.8 2601.3 3196.7 2569.9 3196 2543.7C3195.3 2517.4 3198.3 2494.2 3200 2464.5C3201.7 2434.8 3207.7 2399.7 3206 2365.6C3204.3 2331.5 3201 2294.3 3190 2260C3179 2225.7 3163.3 2170 3140 2160C3116.7 2150 3090 2183.3 3050 2200C3010 2216.7 2941.7 2243.3 2900 2260C2858.3 2276.7 2815.5 2263.7 2800 2300Z"/><path d="M2790 2292C2764.8 2288 2743.8 2300.3 2729 2306C2714.2 2311.7 2708.7 2318.1 2701.5 2326C2694.3 2333.9 2689.2 2343.9 2685.6 2353.7C2682 2363.5 2680.7 2369.8 2679.7 2385C2678.7 2400.2 2679 2424.9 2679.7 2444.7C2680.3 2464.5 2682.3 2484.2 2683.6 2504C2684.9 2523.8 2686.9 2539.2 2687.6 2563.5C2688.3 2587.8 2686.6 2625.8 2687.6 2650C2688.6 2674.2 2689.9 2689.2 2693.5 2709C2697.1 2728.8 2703.1 2748.9 2709 2768.7C2714.9 2788.5 2721.7 2809.5 2729 2828C2736.3 2846.5 2745.7 2864.3 2753 2879.5C2760.3 2894.7 2767.4 2905.8 2772.7 2919C2778 2932.2 2782 2946.2 2784.6 2958.7C2787.2 2971.2 2785.3 2983.4 2788.5 2994C2791.7 3004.6 2798.8 3014.3 2804 3022C2809.2 3029.7 2812.7 3036.7 2820 3040C2827.3 3043.3 2838.7 3043.7 2848 3042C2857.3 3040.3 2867.8 3034.7 2875.6 3030C2883.4 3025.3 2890.4 3021.3 2895 3014C2899.6 3006.7 2901.7 2994.6 2903 2986C2904.3 2977.4 2905.6 2969.9 2903 2962.7C2900.4 2955.5 2892.7 2950.3 2887.5 2943C2882.3 2935.7 2878.2 2925.7 2871.6 2919C2865 2912.3 2853.9 2908.2 2848 2903C2842.1 2897.8 2840 2900 2836 2887.5C2832 2875 2826.8 2842.6 2824 2828C2821.2 2813.4 2819.5 2811.5 2819 2800C2818.5 2788.5 2821 2772.7 2821 2758.8C2821 2744.9 2820.7 2730.7 2818.9 2716.6C2817.1 2702.5 2813.6 2686.7 2810.4 2674.4C2807.2 2662.1 2802.1 2651.5 2800 2642.7C2797.9 2633.9 2796.8 2632.1 2797.8 2621.6C2798.8 2611.1 2804.1 2595.2 2806 2579.4C2807.9 2563.6 2809.2 2543.5 2809.4 2526.6C2809.6 2509.7 2807.4 2486.1 2807 2478C2815.8 2471.7 2847.8 2464.7 2860 2440C2872.2 2415.3 2891.7 2354.7 2880 2330C2868.3 2305.3 2815.2 2296 2790 2292Z"/><path d="M3060 2175C3059.2 2149.3 3068.3 2151.8 3075 2146C3081.7 2140.2 3090.7 2140.2 3100 2140C3109.3 2139.8 3120.2 2143.7 3131 2145C3141.8 2146.3 3152.8 2145.2 3165 2148C3177.2 2150.8 3191 2155 3204 2162C3217 2169 3231.8 2180.1 3243 2190C3254.2 2199.9 3263.2 2209.7 3271.5 2221.5C3279.8 2233.3 3285.2 2248.9 3293 2260.8C3300.8 2272.7 3308.5 2281.7 3318 2293C3327.5 2304.3 3341.1 2319.1 3350 2328.6C3358.9 2338.1 3363.2 2344.1 3371.5 2350C3379.8 2355.9 3391.7 2356.8 3400 2364C3408.3 2371.2 3414.9 2382.2 3421.5 2393C3428.1 2403.8 3434.7 2418.6 3439.4 2428.7C3444.2 2438.8 3444.7 2448.3 3450 2453.7C3455.3 2459 3463.8 2457.8 3471.5 2460.8C3479.2 2463.8 3487.6 2468 3496.5 2471.5C3505.4 2475 3516.1 2477.2 3525 2482C3533.9 2486.8 3544.7 2494 3550 2500C3555.3 2506 3557.6 2510.8 3557 2518C3556.4 2525.2 3549.4 2534.1 3546.5 2543C3543.6 2551.9 3543.6 2563.8 3539.4 2571.6C3535.2 2579.3 3530.4 2585.6 3521.5 2589.5C3512.6 2593.4 3495.3 2596.6 3485.8 2594.8C3476.3 2593 3469.8 2583.8 3464.4 2578.7C3459.1 2573.6 3459.1 2570.3 3453.7 2564.4C3448.3 2558.5 3438.6 2548.9 3432 2543C3425.4 2537.1 3423.3 2533.5 3414.4 2528.7C3405.5 2523.9 3390.5 2520.3 3378.6 2514.4C3366.7 2508.5 3354.9 2501.9 3343 2493C3331.1 2484.1 3316 2471.5 3307 2460.8C3298 2450.1 3297.9 2436.4 3289 2428.7C3280.1 2421 3265.4 2421.6 3253.6 2414.4C3241.8 2407.2 3226.2 2393.9 3217.9 2385.8C3209.6 2377.7 3206.3 2369 3204 2365.6C3195 2374.7 3170.7 2430.9 3150 2420C3129.3 2409.1 3095 2340.8 3080 2300C3065 2259.2 3060.8 2200.7 3060 2175Z"/></clipPath>
<clipPath id="cHead"><path d="M2781.5 1993.7C2785 1991.4 2796 1992.7 2798.9 1992.5C2797.8 1995.6 2790.8 2005.3 2792 2011.1C2793.2 2016.9 2799.7 2024.2 2805.9 2027.3C2812.1 2030.4 2822.5 2030.8 2829.1 2029.7C2835.7 2028.6 2841.5 2025.1 2845.4 2020.4C2849.3 2015.8 2848.8 2006.8 2852.3 2001.8C2855.8 1996.8 2861.3 1991.4 2866.3 1990.2C2871.3 1989 2875.9 1993.5 2882.5 1994.8C2889.1 1996.1 2896.1 1998.3 2905.8 1998.3C2915.5 1998.3 2929 1994.4 2940.6 1994.8C2952.2 1995.2 2964.6 1997.7 2975.4 2000.6C2986.2 2003.5 2996.3 2007.3 3005.6 2012.2C3014.9 2017.1 3023.8 2022.9 3031.1 2029.7C3038.4 2036.5 3044.8 2044.4 3049.7 2052.9C3054.5 2061.4 3057.1 2071.8 3060.2 2080.7C3063.3 2089.6 3064.6 2098.6 3068.3 2106.3C3072 2114.1 3076.4 2121.4 3082.2 2127.2C3088 2133 3095 2136.8 3103.1 2141.1C3111.2 2145.3 3126.3 2150.8 3131 2152.7C3126 2154.6 3108.6 2158.5 3100.8 2164.3C3093.1 2170.1 3085.7 2179 3084.5 2187.5C3083.3 2196 3089.9 2206.1 3093.8 2215.4C3097.7 2224.7 3105.1 2234.8 3107.8 2243.3C3110.5 2251.8 3111.3 2258.8 3110.1 2266.5C3108.9 2274.2 3104.3 2285 3100.8 2289.7C3097.3 2294.3 3091.1 2293.6 3089.2 2294.4C3085.7 2292.1 3074.9 2285.1 3068.3 2280.4C3061.7 2275.8 3056.3 2269.6 3049.7 2266.5C3043.1 2263.4 3035.4 2259.5 3028.8 2261.8C3022.2 2264.1 3017.2 2274.6 3010.2 2280.4C3003.2 2286.2 2996.7 2291.3 2987 2296.7C2977.3 2302.1 2965.7 2308.7 2952.2 2312.9C2938.7 2317.2 2921.3 2319.9 2905.8 2322.2C2890.3 2324.5 2872.9 2326.9 2859.3 2326.9C2845.8 2326.9 2834.2 2324.5 2824.5 2322.2C2814.8 2319.9 2809.1 2312.9 2801.3 2312.9C2793.6 2312.9 2781.9 2320.6 2778 2322.2C2776.1 2319.9 2767.2 2312.6 2766.4 2308.3C2765.6 2304.1 2770.7 2301.3 2773.4 2296.7C2776.1 2292 2781.9 2286.2 2782.7 2280.4C2783.5 2274.6 2780.7 2265.3 2778 2261.8C2775.3 2258.3 2770.7 2262.2 2766.4 2259.5C2762.2 2256.8 2756.2 2251.8 2752.5 2245.6C2748.8 2239.4 2745.4 2230.5 2744.4 2222.4C2743.4 2214.3 2745 2204.9 2746.7 2196.8C2748.4 2188.7 2752.3 2181.3 2754.8 2173.6C2757.3 2165.9 2761.8 2158.1 2761.8 2150.4C2761.8 2142.7 2755.2 2135.7 2754.8 2127.2C2754.4 2118.7 2757.2 2108.6 2759.5 2099.3C2761.8 2090 2764.6 2079.2 2768.8 2071.5C2773.1 2063.8 2779.2 2058.3 2785 2052.9C2790.8 2047.5 2800.5 2041.2 2803.6 2038.9C2800.9 2037 2791.6 2032.7 2787.3 2027.3C2783 2021.9 2779 2012 2778 2006.4C2777 2000.8 2778 1996 2781.5 1993.7Z"/></clipPath>
<clipPath id="cFace"><path d="M2796.6 2071.5C2800.9 2068.2 2807.1 2063.9 2812.9 2061C2818.7 2058.1 2826.1 2054.6 2831.5 2054C2836.9 2053.4 2840.8 2054.4 2845.4 2057.5C2850 2060.6 2853.9 2067 2859.3 2072.6C2864.7 2078.2 2870.9 2085.6 2877.9 2091.2C2884.9 2096.8 2893.4 2101.5 2901.1 2106.3C2908.8 2111.1 2918.5 2115.2 2924.3 2120.2C2930.1 2125.2 2935.1 2129.9 2935.9 2136.5C2936.7 2143.1 2927.8 2152 2929 2159.7C2930.2 2167.4 2937.5 2177.5 2942.9 2182.9C2948.3 2188.3 2955.7 2188.3 2961.5 2192.2C2967.3 2196.1 2975.4 2200.3 2977.7 2206.1C2980 2211.9 2977.7 2219.7 2975.4 2227C2973.1 2234.3 2969.6 2242.4 2963.8 2250.2C2958 2257.9 2950.3 2267.7 2940.6 2273.5C2930.9 2279.3 2919.4 2283.2 2905.8 2285.1C2892.2 2287 2874.8 2285.9 2859.3 2285.1C2843.8 2284.3 2823.4 2284.3 2812.9 2280.4C2802.4 2276.5 2800.5 2268.8 2796.6 2261.8C2792.7 2254.8 2791.8 2245.4 2789.7 2238.6C2787.6 2231.8 2783.9 2226.6 2783.9 2221.2C2783.9 2215.8 2787.6 2210.9 2789.7 2206.1C2791.8 2201.3 2797 2196.4 2796.6 2192.2C2796.2 2187.9 2789.6 2185.2 2787.3 2180.6C2785 2175.9 2782.7 2170.1 2782.7 2164.3C2782.7 2158.5 2786.1 2152 2787.3 2145.8C2788.5 2139.6 2790.8 2133.4 2789.7 2127.2C2788.5 2121 2782.3 2113.6 2780.4 2108.6C2778.5 2103.6 2776.8 2101.7 2778 2097C2779.2 2092.3 2784.2 2084.9 2787.3 2080.7C2790.4 2076.4 2792.3 2074.8 2796.6 2071.5Z"/></clipPath>
</defs>
<g fill="#fff" stroke="#fff" stroke-width="30" stroke-linejoin="round">
<path d="M2800 2300C2784.5 2336.3 2805.8 2448.3 2807 2478C2809 2481.9 2814.8 2493.2 2818.9 2501.3C2823 2509.4 2828 2517.2 2831.5 2526.6C2835 2536 2837.2 2547.4 2840 2558C2842.8 2568.6 2846.7 2579.4 2848.4 2590C2850.2 2600.6 2850.5 2611.1 2850.5 2621.6C2850.5 2632.1 2849.2 2640.7 2848.4 2653C2847.7 2665.3 2846.9 2681.4 2846 2695.5C2845.1 2709.6 2843.8 2720.3 2843 2737.7C2842.2 2755.1 2840.8 2784.9 2841 2800C2841.2 2815.1 2842.2 2814.8 2844 2828C2845.8 2841.2 2850 2859.2 2852 2879.5C2854 2899.8 2855.4 2922.3 2856 2950C2856.6 2977.7 2855.8 3023.3 2855.8 3045.8C2855.8 3068.3 2855.1 3071.8 2855.8 3085C2856.5 3098.2 2859.8 3111.8 2859.8 3125C2859.8 3138.2 2857.8 3151.3 2855.8 3164.5C2853.8 3177.7 2852.6 3192.1 2848 3204C2843.4 3215.9 2834 3225.2 2828 3235.7C2822 3246.2 2815.5 3255.8 2812 3267C2808.5 3278.2 2807.5 3290.4 2807 3303C2806.5 3315.6 2807.7 3327.6 2809 3342.6C2810.3 3357.6 2812 3372.8 2815 3393C2818 3413.2 2824.3 3443.2 2826.8 3464C2829.3 3484.8 2830.6 3504.3 2830 3518C2829.4 3531.7 2824.4 3536.3 2823 3546.4C2821.6 3556.5 2822 3568.5 2821.4 3578.6C2820.8 3588.7 2820.8 3597.5 2819.6 3607C2818.4 3616.5 2816.1 3626.8 2814.3 3635.7C2812.5 3644.6 2809.9 3650.6 2809 3660.7C2808.1 3670.8 2808.1 3687.1 2809 3696C2809.9 3704.9 2810.5 3709.5 2814.3 3714.3C2818.1 3719.1 2824.9 3722.1 2832 3725C2839.1 3727.9 2848.1 3730.2 2857 3732C2865.9 3733.8 2876.8 3734.2 2885.7 3735.7C2894.6 3737.2 2902.4 3740.4 2910.7 3741C2919 3741.6 2927.4 3739.9 2935.7 3739C2944 3738.1 2955.3 3738 2960.7 3735.7C2966.1 3733.4 2967.7 3729.8 2968 3725C2968.3 3720.2 2965.5 3714.7 2962.5 3707C2959.5 3699.3 2953.9 3688.1 2950 3678.6C2946.1 3669.1 2942 3658.9 2939 3650C2936 3641.1 2934 3635.2 2932 3625C2930 3614.8 2928 3600.9 2926.8 3589C2925.6 3577.1 2925.6 3563.7 2925 3553.6C2924.4 3543.5 2923.6 3540.5 2923 3528.6C2922.4 3516.7 2920.5 3497.5 2921.4 3482C2922.3 3466.5 2925 3450.5 2928.6 3435.7C2932.2 3420.9 2938.3 3407.3 2943 3393C2947.7 3378.7 2953.7 3361.7 2957 3350C2960.3 3338.3 2961.1 3334 2962.7 3322.8C2964.3 3311.6 2964.6 3294.9 2966.6 3283C2968.6 3271.1 2971.2 3261.4 2974.5 3251.6C2977.8 3241.8 2981.8 3233.2 2986.4 3223.9C2991 3214.6 2998.4 3205.9 3002 3196C3005.6 3186.1 3007.3 3174.4 3008 3164.5C3008.7 3154.6 3005 3146.7 3006 3136.8C3007 3126.9 3011.3 3116.9 3014 3105C3016.7 3093.1 3019.3 3082.1 3022 3065.6C3024.7 3049.1 3027 3029.1 3030 3006C3033 2982.9 3037.8 2945.8 3039.8 2927C3041.8 2908.2 3041.5 2898.7 3041.8 2893C3043.5 2893.7 3048 2897 3052 2897C3056 2897 3061.3 2894.7 3066 2893C3070.7 2891.3 3076.3 2889.2 3080 2887C3083.7 2884.8 3086.7 2881.2 3088 2880C3090.8 2886.5 3097.5 2904.6 3105 2919C3112.5 2933.4 3122.9 2950.8 3132.8 2966.6C3142.7 2982.4 3154.6 2998.8 3164.5 3014C3174.4 3029.2 3184.1 3043.8 3192 3057.6C3199.9 3071.4 3210 3083.8 3212 3097C3214 3110.2 3206.3 3123.6 3204 3136.8C3201.7 3150 3198 3162.8 3198 3176C3198 3189.2 3200.3 3203.4 3204 3216C3207.7 3228.6 3218 3240.4 3220 3251.6C3222 3262.8 3218.7 3272.4 3216 3283C3213.3 3293.6 3207.3 3308.6 3204 3315C3200.7 3321.4 3200.6 3316.7 3196.4 3321.4C3192.2 3326.1 3183.3 3335.8 3178.6 3343C3173.9 3350.2 3169.8 3356.6 3168 3364.3C3166.2 3372 3166.2 3381.9 3168 3389C3169.8 3396.1 3172.7 3401 3178.6 3407C3184.5 3413 3195.3 3417.8 3203.6 3425C3211.9 3432.2 3222 3441.1 3228.6 3450C3235.2 3458.9 3238.3 3469.7 3243 3478.6C3247.7 3487.5 3251.1 3497 3257 3503.6C3262.9 3510.2 3270.3 3513.8 3278.6 3518C3286.9 3522.2 3297.5 3525.7 3307 3528.6C3316.5 3531.5 3327.9 3536.3 3335.7 3535.7C3343.5 3535.1 3350 3529.8 3353.6 3525C3357.2 3520.2 3357.6 3512.3 3357 3507C3356.4 3501.7 3354.7 3497.7 3350 3493C3345.3 3488.3 3335.2 3484.6 3328.6 3478.6C3322 3472.6 3315.5 3465.3 3310.7 3457C3305.9 3448.7 3302.6 3439.3 3300 3428.6C3297.4 3417.9 3295.3 3404.4 3295 3393C3294.7 3381.6 3295.7 3371.8 3298 3360C3300.3 3348.2 3305 3334.5 3309 3322C3313 3309.5 3317.8 3297.5 3322 3285C3326.2 3272.5 3329.9 3260.5 3334 3247C3338.1 3233.5 3343.1 3217.8 3346.5 3204C3349.9 3190.2 3351.8 3177.7 3354.5 3164.5C3357.2 3151.3 3360.5 3138.2 3362.4 3125C3364.3 3111.8 3366.7 3098.2 3366 3085C3365.3 3071.8 3361.8 3060.3 3358.5 3045.8C3355.2 3031.3 3350.5 3014.5 3346.5 2998C3342.5 2981.5 3339.3 2965.2 3334.7 2946.8C3330.1 2928.4 3325.8 2907.5 3318.8 2887.5C3311.9 2867.5 3300.9 2845.8 3293 2827C3285.1 2808.2 3279.8 2792.6 3271.5 2775C3263.2 2757.4 3251.4 2739.4 3243 2721.6C3234.6 2703.8 3227.5 2684.6 3221 2668C3214.5 2651.4 3208.2 2642.7 3204 2622C3199.8 2601.3 3196.7 2569.9 3196 2543.7C3195.3 2517.4 3198.3 2494.2 3200 2464.5C3201.7 2434.8 3207.7 2399.7 3206 2365.6C3204.3 2331.5 3201 2294.3 3190 2260C3179 2225.7 3163.3 2170 3140 2160C3116.7 2150 3090 2183.3 3050 2200C3010 2216.7 2941.7 2243.3 2900 2260C2858.3 2276.7 2815.5 2263.7 2800 2300Z"/>
<path d="M2790 2292C2764.8 2288 2743.8 2300.3 2729 2306C2714.2 2311.7 2708.7 2318.1 2701.5 2326C2694.3 2333.9 2689.2 2343.9 2685.6 2353.7C2682 2363.5 2680.7 2369.8 2679.7 2385C2678.7 2400.2 2679 2424.9 2679.7 2444.7C2680.3 2464.5 2682.3 2484.2 2683.6 2504C2684.9 2523.8 2686.9 2539.2 2687.6 2563.5C2688.3 2587.8 2686.6 2625.8 2687.6 2650C2688.6 2674.2 2689.9 2689.2 2693.5 2709C2697.1 2728.8 2703.1 2748.9 2709 2768.7C2714.9 2788.5 2721.7 2809.5 2729 2828C2736.3 2846.5 2745.7 2864.3 2753 2879.5C2760.3 2894.7 2767.4 2905.8 2772.7 2919C2778 2932.2 2782 2946.2 2784.6 2958.7C2787.2 2971.2 2785.3 2983.4 2788.5 2994C2791.7 3004.6 2798.8 3014.3 2804 3022C2809.2 3029.7 2812.7 3036.7 2820 3040C2827.3 3043.3 2838.7 3043.7 2848 3042C2857.3 3040.3 2867.8 3034.7 2875.6 3030C2883.4 3025.3 2890.4 3021.3 2895 3014C2899.6 3006.7 2901.7 2994.6 2903 2986C2904.3 2977.4 2905.6 2969.9 2903 2962.7C2900.4 2955.5 2892.7 2950.3 2887.5 2943C2882.3 2935.7 2878.2 2925.7 2871.6 2919C2865 2912.3 2853.9 2908.2 2848 2903C2842.1 2897.8 2840 2900 2836 2887.5C2832 2875 2826.8 2842.6 2824 2828C2821.2 2813.4 2819.5 2811.5 2819 2800C2818.5 2788.5 2821 2772.7 2821 2758.8C2821 2744.9 2820.7 2730.7 2818.9 2716.6C2817.1 2702.5 2813.6 2686.7 2810.4 2674.4C2807.2 2662.1 2802.1 2651.5 2800 2642.7C2797.9 2633.9 2796.8 2632.1 2797.8 2621.6C2798.8 2611.1 2804.1 2595.2 2806 2579.4C2807.9 2563.6 2809.2 2543.5 2809.4 2526.6C2809.6 2509.7 2807.4 2486.1 2807 2478C2815.8 2471.7 2847.8 2464.7 2860 2440C2872.2 2415.3 2891.7 2354.7 2880 2330C2868.3 2305.3 2815.2 2296 2790 2292Z"/>
<path d="M3060 2175C3059.2 2149.3 3068.3 2151.8 3075 2146C3081.7 2140.2 3090.7 2140.2 3100 2140C3109.3 2139.8 3120.2 2143.7 3131 2145C3141.8 2146.3 3152.8 2145.2 3165 2148C3177.2 2150.8 3191 2155 3204 2162C3217 2169 3231.8 2180.1 3243 2190C3254.2 2199.9 3263.2 2209.7 3271.5 2221.5C3279.8 2233.3 3285.2 2248.9 3293 2260.8C3300.8 2272.7 3308.5 2281.7 3318 2293C3327.5 2304.3 3341.1 2319.1 3350 2328.6C3358.9 2338.1 3363.2 2344.1 3371.5 2350C3379.8 2355.9 3391.7 2356.8 3400 2364C3408.3 2371.2 3414.9 2382.2 3421.5 2393C3428.1 2403.8 3434.7 2418.6 3439.4 2428.7C3444.2 2438.8 3444.7 2448.3 3450 2453.7C3455.3 2459 3463.8 2457.8 3471.5 2460.8C3479.2 2463.8 3487.6 2468 3496.5 2471.5C3505.4 2475 3516.1 2477.2 3525 2482C3533.9 2486.8 3544.7 2494 3550 2500C3555.3 2506 3557.6 2510.8 3557 2518C3556.4 2525.2 3549.4 2534.1 3546.5 2543C3543.6 2551.9 3543.6 2563.8 3539.4 2571.6C3535.2 2579.3 3530.4 2585.6 3521.5 2589.5C3512.6 2593.4 3495.3 2596.6 3485.8 2594.8C3476.3 2593 3469.8 2583.8 3464.4 2578.7C3459.1 2573.6 3459.1 2570.3 3453.7 2564.4C3448.3 2558.5 3438.6 2548.9 3432 2543C3425.4 2537.1 3423.3 2533.5 3414.4 2528.7C3405.5 2523.9 3390.5 2520.3 3378.6 2514.4C3366.7 2508.5 3354.9 2501.9 3343 2493C3331.1 2484.1 3316 2471.5 3307 2460.8C3298 2450.1 3297.9 2436.4 3289 2428.7C3280.1 2421 3265.4 2421.6 3253.6 2414.4C3241.8 2407.2 3226.2 2393.9 3217.9 2385.8C3209.6 2377.7 3206.3 2369 3204 2365.6C3195 2374.7 3170.7 2430.9 3150 2420C3129.3 2409.1 3095 2340.8 3080 2300C3065 2259.2 3060.8 2200.7 3060 2175Z"/>
<path d="M2781.5 1993.7C2785 1991.4 2796 1992.7 2798.9 1992.5C2797.8 1995.6 2790.8 2005.3 2792 2011.1C2793.2 2016.9 2799.7 2024.2 2805.9 2027.3C2812.1 2030.4 2822.5 2030.8 2829.1 2029.7C2835.7 2028.6 2841.5 2025.1 2845.4 2020.4C2849.3 2015.8 2848.8 2006.8 2852.3 2001.8C2855.8 1996.8 2861.3 1991.4 2866.3 1990.2C2871.3 1989 2875.9 1993.5 2882.5 1994.8C2889.1 1996.1 2896.1 1998.3 2905.8 1998.3C2915.5 1998.3 2929 1994.4 2940.6 1994.8C2952.2 1995.2 2964.6 1997.7 2975.4 2000.6C2986.2 2003.5 2996.3 2007.3 3005.6 2012.2C3014.9 2017.1 3023.8 2022.9 3031.1 2029.7C3038.4 2036.5 3044.8 2044.4 3049.7 2052.9C3054.5 2061.4 3057.1 2071.8 3060.2 2080.7C3063.3 2089.6 3064.6 2098.6 3068.3 2106.3C3072 2114.1 3076.4 2121.4 3082.2 2127.2C3088 2133 3095 2136.8 3103.1 2141.1C3111.2 2145.3 3126.3 2150.8 3131 2152.7C3126 2154.6 3108.6 2158.5 3100.8 2164.3C3093.1 2170.1 3085.7 2179 3084.5 2187.5C3083.3 2196 3089.9 2206.1 3093.8 2215.4C3097.7 2224.7 3105.1 2234.8 3107.8 2243.3C3110.5 2251.8 3111.3 2258.8 3110.1 2266.5C3108.9 2274.2 3104.3 2285 3100.8 2289.7C3097.3 2294.3 3091.1 2293.6 3089.2 2294.4C3085.7 2292.1 3074.9 2285.1 3068.3 2280.4C3061.7 2275.8 3056.3 2269.6 3049.7 2266.5C3043.1 2263.4 3035.4 2259.5 3028.8 2261.8C3022.2 2264.1 3017.2 2274.6 3010.2 2280.4C3003.2 2286.2 2996.7 2291.3 2987 2296.7C2977.3 2302.1 2965.7 2308.7 2952.2 2312.9C2938.7 2317.2 2921.3 2319.9 2905.8 2322.2C2890.3 2324.5 2872.9 2326.9 2859.3 2326.9C2845.8 2326.9 2834.2 2324.5 2824.5 2322.2C2814.8 2319.9 2809.1 2312.9 2801.3 2312.9C2793.6 2312.9 2781.9 2320.6 2778 2322.2C2776.1 2319.9 2767.2 2312.6 2766.4 2308.3C2765.6 2304.1 2770.7 2301.3 2773.4 2296.7C2776.1 2292 2781.9 2286.2 2782.7 2280.4C2783.5 2274.6 2780.7 2265.3 2778 2261.8C2775.3 2258.3 2770.7 2262.2 2766.4 2259.5C2762.2 2256.8 2756.2 2251.8 2752.5 2245.6C2748.8 2239.4 2745.4 2230.5 2744.4 2222.4C2743.4 2214.3 2745 2204.9 2746.7 2196.8C2748.4 2188.7 2752.3 2181.3 2754.8 2173.6C2757.3 2165.9 2761.8 2158.1 2761.8 2150.4C2761.8 2142.7 2755.2 2135.7 2754.8 2127.2C2754.4 2118.7 2757.2 2108.6 2759.5 2099.3C2761.8 2090 2764.6 2079.2 2768.8 2071.5C2773.1 2063.8 2779.2 2058.3 2785 2052.9C2790.8 2047.5 2800.5 2041.2 2803.6 2038.9C2800.9 2037 2791.6 2032.7 2787.3 2027.3C2783 2021.9 2779 2012 2778 2006.4C2777 2000.8 2778 1996 2781.5 1993.7Z"/>
</g>
<g clip-path="url(#cBody)">
<rect x="2650" y="2100" width="950" height="1649" fill="#6e3f27"/>
<ellipse cx="3330" cy="2420" rx="150" ry="70" fill="#572d17" filter="url(#b20)" opacity="1" transform="rotate(38 3330 2420)"/>
<ellipse cx="3420" cy="2440" rx="60" ry="50" fill="#452210" filter="url(#b12)" opacity="1" transform="rotate(40 3420 2440)"/>
<ellipse cx="3235" cy="2225" rx="70" ry="45" fill="#7c4727" filter="url(#b20)" opacity="1" transform="rotate(35 3235 2225)"/>
<ellipse cx="3160" cy="2200" rx="50" ry="40" fill="#703e23" filter="url(#b20)" opacity="1"/>
<ellipse cx="3500" cy="2540" rx="55" ry="50" fill="#65351e" filter="url(#b12)" opacity="1"/>
<ellipse cx="2990" cy="2400" rx="190" ry="90" fill="#582e1a" filter="url(#b30)" opacity="1"/>
<ellipse cx="2900" cy="2335" rx="130" ry="40" fill="#412010" filter="url(#b20)" opacity="1"/>
<ellipse cx="3140" cy="2310" rx="60" ry="100" fill="#6e3f23" filter="url(#b20)" opacity="1"/>
<ellipse cx="2870" cy="2470" rx="60" ry="45" fill="#794628" filter="url(#b12)" opacity="1"/>
<ellipse cx="3010" cy="2545" rx="170" ry="16" fill="#452313" filter="url(#b6)" opacity="1" transform="rotate(4 3010 2545)"/>
<ellipse cx="3010" cy="2660" rx="105" ry="115" fill="#955d38" filter="url(#b30)" opacity="1"/>
<ellipse cx="2965" cy="2592" rx="40" ry="24" fill="#ac734a" filter="url(#b12)" opacity="1"/>
<ellipse cx="3150" cy="2650" rx="45" ry="150" fill="#502b17" filter="url(#b20)" opacity="1" transform="rotate(-8 3150 2650)"/>
<ellipse cx="3035" cy="2700" rx="12" ry="115" fill="#5b321b" filter="url(#b6)" opacity="1" transform="rotate(3 3035 2700)"/>
<ellipse cx="3050" cy="2850" rx="70" ry="60" fill="#492815" filter="url(#b20)" opacity="1"/>
<ellipse cx="2745" cy="2450" rx="55" ry="140" fill="#915834" filter="url(#b20)" opacity="1"/>
<ellipse cx="2702" cy="2500" rx="24" ry="150" fill="#ad7549" filter="url(#b12)" opacity="1" transform="rotate(-3 2702 2500)"/>
<ellipse cx="2790" cy="2560" rx="25" ry="130" fill="#58311a" filter="url(#b12)" opacity="1"/>
<ellipse cx="2790" cy="2800" rx="50" ry="130" fill="#985f39" filter="url(#b20)" opacity="1" transform="rotate(-18 2790 2800)"/>
<ellipse cx="2850" cy="2975" rx="55" ry="55" fill="#966342" filter="url(#b12)" opacity="1"/>
<ellipse cx="2940" cy="3000" rx="80" ry="200" fill="#9a5f34" filter="url(#b30)" opacity="1" transform="rotate(-4 2940 3000)"/>
<ellipse cx="2882" cy="2900" rx="28" ry="180" fill="#a86e42" filter="url(#b20)" opacity="1"/>
<ellipse cx="3005" cy="3050" rx="25" ry="170" fill="#502a17" filter="url(#b12)" opacity="1" transform="rotate(-6 3005 3050)"/>
<ellipse cx="2930" cy="3230" rx="60" ry="60" fill="#955c37" filter="url(#b20)" opacity="1"/>
<ellipse cx="2880" cy="3440" rx="60" ry="150" fill="#653920" filter="url(#b30)" opacity="1" transform="rotate(-5 2880 3440)"/>
<ellipse cx="2950" cy="3420" rx="25" ry="120" fill="#3d200f" filter="url(#b12)" opacity="1" transform="rotate(-12 2950 3420)"/>
<ellipse cx="2885" cy="3650" rx="70" ry="70" fill="#663c23" filter="url(#b20)" opacity="1"/>
<ellipse cx="2880" cy="3725" rx="80" ry="14" fill="#482816" filter="url(#b6)" opacity="1"/>
<ellipse cx="2832" cy="3420" rx="14" ry="130" fill="#8c5733" filter="url(#b12)" opacity="1" transform="rotate(-3 2832 3420)"/>
<ellipse cx="2836" cy="3722" rx="3" ry="14" fill="#331b0f" filter="url(#b3)" opacity="1" transform="rotate(-8 2836 3722)"/>
<ellipse cx="2866" cy="3722" rx="3" ry="14" fill="#331b0f" filter="url(#b3)" opacity="1" transform="rotate(-8 2866 3722)"/>
<ellipse cx="2896" cy="3722" rx="3" ry="14" fill="#331b0f" filter="url(#b3)" opacity="1" transform="rotate(-8 2896 3722)"/>
<ellipse cx="2926" cy="3722" rx="3" ry="14" fill="#331b0f" filter="url(#b3)" opacity="1" transform="rotate(-8 2926 3722)"/>
<ellipse cx="3230" cy="2950" rx="90" ry="200" fill="#5a311a" filter="url(#b30)" opacity="1" transform="rotate(-20 3230 2950)"/>
<ellipse cx="3300" cy="2960" rx="30" ry="170" fill="#492613" filter="url(#b12)" opacity="1" transform="rotate(-18 3300 2960)"/>
<ellipse cx="3180" cy="2990" rx="40" ry="110" fill="#704125" filter="url(#b20)" opacity="1" transform="rotate(-30 3180 2990)"/>
<ellipse cx="3290" cy="3110" rx="60" ry="50" fill="#704125" filter="url(#b20)" opacity="1"/>
<ellipse cx="3270" cy="3270" rx="60" ry="120" fill="#562e1a" filter="url(#b20)" opacity="1" transform="rotate(8 3270 3270)"/>
<ellipse cx="3215" cy="3230" rx="20" ry="70" fill="#3a1d0e" filter="url(#b12)" opacity="1"/>
<ellipse cx="3260" cy="3440" rx="70" ry="70" fill="#5a341e" filter="url(#b20)" opacity="1" transform="rotate(45 3260 3440)"/>
<ellipse cx="3330" cy="3515" rx="30" ry="18" fill="#754b31" filter="url(#b6)" opacity="1" transform="rotate(20 3330 3515)"/>
</g>
<path d="M2781.5 1993.7C2785 1991.4 2796 1992.7 2798.9 1992.5C2797.8 1995.6 2790.8 2005.3 2792 2011.1C2793.2 2016.9 2799.7 2024.2 2805.9 2027.3C2812.1 2030.4 2822.5 2030.8 2829.1 2029.7C2835.7 2028.6 2841.5 2025.1 2845.4 2020.4C2849.3 2015.8 2848.8 2006.8 2852.3 2001.8C2855.8 1996.8 2861.3 1991.4 2866.3 1990.2C2871.3 1989 2875.9 1993.5 2882.5 1994.8C2889.1 1996.1 2896.1 1998.3 2905.8 1998.3C2915.5 1998.3 2929 1994.4 2940.6 1994.8C2952.2 1995.2 2964.6 1997.7 2975.4 2000.6C2986.2 2003.5 2996.3 2007.3 3005.6 2012.2C3014.9 2017.1 3023.8 2022.9 3031.1 2029.7C3038.4 2036.5 3044.8 2044.4 3049.7 2052.9C3054.5 2061.4 3057.1 2071.8 3060.2 2080.7C3063.3 2089.6 3064.6 2098.6 3068.3 2106.3C3072 2114.1 3076.4 2121.4 3082.2 2127.2C3088 2133 3095 2136.8 3103.1 2141.1C3111.2 2145.3 3126.3 2150.8 3131 2152.7C3126 2154.6 3108.6 2158.5 3100.8 2164.3C3093.1 2170.1 3085.7 2179 3084.5 2187.5C3083.3 2196 3089.9 2206.1 3093.8 2215.4C3097.7 2224.7 3105.1 2234.8 3107.8 2243.3C3110.5 2251.8 3111.3 2258.8 3110.1 2266.5C3108.9 2274.2 3104.3 2285 3100.8 2289.7C3097.3 2294.3 3091.1 2293.6 3089.2 2294.4C3085.7 2292.1 3074.9 2285.1 3068.3 2280.4C3061.7 2275.8 3056.3 2269.6 3049.7 2266.5C3043.1 2263.4 3035.4 2259.5 3028.8 2261.8C3022.2 2264.1 3017.2 2274.6 3010.2 2280.4C3003.2 2286.2 2996.7 2291.3 2987 2296.7C2977.3 2302.1 2965.7 2308.7 2952.2 2312.9C2938.7 2317.2 2921.3 2319.9 2905.8 2322.2C2890.3 2324.5 2872.9 2326.9 2859.3 2326.9C2845.8 2326.9 2834.2 2324.5 2824.5 2322.2C2814.8 2319.9 2809.1 2312.9 2801.3 2312.9C2793.6 2312.9 2781.9 2320.6 2778 2322.2C2776.1 2319.9 2767.2 2312.6 2766.4 2308.3C2765.6 2304.1 2770.7 2301.3 2773.4 2296.7C2776.1 2292 2781.9 2286.2 2782.7 2280.4C2783.5 2274.6 2780.7 2265.3 2778 2261.8C2775.3 2258.3 2770.7 2262.2 2766.4 2259.5C2762.2 2256.8 2756.2 2251.8 2752.5 2245.6C2748.8 2239.4 2745.4 2230.5 2744.4 2222.4C2743.4 2214.3 2745 2204.9 2746.7 2196.8C2748.4 2188.7 2752.3 2181.3 2754.8 2173.6C2757.3 2165.9 2761.8 2158.1 2761.8 2150.4C2761.8 2142.7 2755.2 2135.7 2754.8 2127.2C2754.4 2118.7 2757.2 2108.6 2759.5 2099.3C2761.8 2090 2764.6 2079.2 2768.8 2071.5C2773.1 2063.8 2779.2 2058.3 2785 2052.9C2790.8 2047.5 2800.5 2041.2 2803.6 2038.9C2800.9 2037 2791.6 2032.7 2787.3 2027.3C2783 2021.9 2779 2012 2778 2006.4C2777 2000.8 2778 1996 2781.5 1993.7Z" fill="#2a1910"/>
<g clip-path="url(#cHead)">
<ellipse cx="2960" cy="2035" rx="80" ry="12" fill="#5b3d22" filter="url(#b6)" opacity="1" transform="rotate(22 2960 2035)"/>
<ellipse cx="3045" cy="2120" rx="11" ry="50" fill="#5b3d22" filter="url(#b6)" opacity="1" transform="rotate(-28 3045 2120)"/>
<ellipse cx="2880" cy="2008" rx="35" ry="9" fill="#6b4a2b" filter="url(#b6)" opacity="1" transform="rotate(-8 2880 2008)"/>
<ellipse cx="3090" cy="2230" rx="10" ry="50" fill="#4a2f1a" filter="url(#b6)" opacity="1" transform="rotate(-10 3090 2230)"/>
<ellipse cx="3000" cy="2085" rx="60" ry="10" fill="#45291a" filter="url(#b6)" opacity="1" transform="rotate(35 3000 2085)"/>
<path d="M2781.5 1993.7C2785 1991.4 2796 1992.7 2798.9 1992.5C2797.8 1995.6 2790.8 2005.3 2792 2011.1C2793.2 2016.9 2799.7 2024.2 2805.9 2027.3C2812.1 2030.4 2824.1 2028.9 2829.1 2029.7C2834.1 2030.5 2837.6 2029.7 2836.1 2032C2834.6 2034.3 2826 2039.3 2819.8 2043.6C2813.6 2047.8 2803.9 2052.1 2798.9 2057.5C2793.9 2062.9 2792.8 2069.9 2789.7 2076.1C2786.6 2082.3 2782.3 2088.9 2780.4 2094.7C2778.5 2100.5 2777.2 2105.5 2778 2110.9C2778.8 2116.3 2783.4 2121.4 2785 2127.2C2786.6 2133 2787.7 2139.6 2787.3 2145.8C2786.9 2152 2782.7 2158.1 2782.7 2164.3C2782.7 2170.5 2785.4 2177.9 2787.3 2182.9C2789.2 2187.9 2794.3 2190.2 2794.3 2194.5C2794.3 2198.8 2789.2 2203.8 2787.3 2208.4C2785.4 2213.1 2782.7 2217.4 2782.7 2222.4C2782.7 2227.4 2785 2232.4 2787.3 2238.6C2789.6 2244.8 2794.7 2252.5 2796.6 2259.5C2798.5 2266.5 2800.1 2273.1 2798.9 2280.4C2797.8 2287.8 2793.2 2296.6 2789.7 2303.6C2786.2 2310.6 2779.9 2319.1 2778 2322.2C2776.1 2319.9 2767.2 2312.6 2766.4 2308.3C2765.6 2304.1 2770.7 2301.3 2773.4 2296.7C2776.1 2292 2781.9 2286.2 2782.7 2280.4C2783.5 2274.6 2780.7 2265.3 2778 2261.8C2775.3 2258.3 2770.7 2262.2 2766.4 2259.5C2762.2 2256.8 2756.2 2251.8 2752.5 2245.6C2748.8 2239.4 2745.4 2230.5 2744.4 2222.4C2743.4 2214.3 2745 2204.9 2746.7 2196.8C2748.4 2188.7 2752.3 2181.3 2754.8 2173.6C2757.3 2165.9 2761.8 2158.1 2761.8 2150.4C2761.8 2142.7 2755.2 2135.7 2754.8 2127.2C2754.4 2118.7 2757.2 2108.6 2759.5 2099.3C2761.8 2090 2764.6 2079.2 2768.8 2071.5C2773.1 2063.8 2779.2 2058.3 2785 2052.9C2790.8 2047.5 2800.5 2041.2 2803.6 2038.9C2800.9 2037 2791.6 2032.7 2787.3 2027.3C2783 2021.9 2779 2012 2778 2006.4C2777 2000.8 2778 1996 2781.5 1993.7Z" fill="#8c673a"/>
<ellipse cx="2768" cy="2200" rx="11" ry="60" fill="#b8925a" filter="url(#b6)" opacity="1" transform="rotate(5 2768 2200)"/>
<ellipse cx="2772" cy="2095" rx="8" ry="45" fill="#5a3c20" filter="url(#b6)" opacity="1" transform="rotate(12 2772 2095)"/>
<ellipse cx="2790" cy="2015" rx="10" ry="20" fill="#b39a68" filter="url(#b3)" opacity="1" transform="rotate(-20 2790 2015)"/>
<ellipse cx="2790" cy="2290" rx="10" ry="35" fill="#6b4a2b" filter="url(#b6)" opacity="1" transform="rotate(15 2790 2290)"/>
<path d="M2796.6 2071.5C2800.9 2068.2 2807.1 2063.9 2812.9 2061C2818.7 2058.1 2826.1 2054.6 2831.5 2054C2836.9 2053.4 2840.8 2054.4 2845.4 2057.5C2850 2060.6 2853.9 2067 2859.3 2072.6C2864.7 2078.2 2870.9 2085.6 2877.9 2091.2C2884.9 2096.8 2893.4 2101.5 2901.1 2106.3C2908.8 2111.1 2918.5 2115.2 2924.3 2120.2C2930.1 2125.2 2935.1 2129.9 2935.9 2136.5C2936.7 2143.1 2927.8 2152 2929 2159.7C2930.2 2167.4 2937.5 2177.5 2942.9 2182.9C2948.3 2188.3 2955.7 2188.3 2961.5 2192.2C2967.3 2196.1 2975.4 2200.3 2977.7 2206.1C2980 2211.9 2977.7 2219.7 2975.4 2227C2973.1 2234.3 2969.6 2242.4 2963.8 2250.2C2958 2257.9 2950.3 2267.7 2940.6 2273.5C2930.9 2279.3 2919.4 2283.2 2905.8 2285.1C2892.2 2287 2874.8 2285.9 2859.3 2285.1C2843.8 2284.3 2823.4 2284.3 2812.9 2280.4C2802.4 2276.5 2800.5 2268.8 2796.6 2261.8C2792.7 2254.8 2791.8 2245.4 2789.7 2238.6C2787.6 2231.8 2783.9 2226.6 2783.9 2221.2C2783.9 2215.8 2787.6 2210.9 2789.7 2206.1C2791.8 2201.3 2797 2196.4 2796.6 2192.2C2796.2 2187.9 2789.6 2185.2 2787.3 2180.6C2785 2175.9 2782.7 2170.1 2782.7 2164.3C2782.7 2158.5 2786.1 2152 2787.3 2145.8C2788.5 2139.6 2790.8 2133.4 2789.7 2127.2C2788.5 2121 2782.3 2113.6 2780.4 2108.6C2778.5 2103.6 2776.8 2101.7 2778 2097C2779.2 2092.3 2784.2 2084.9 2787.3 2080.7C2790.4 2076.4 2792.3 2074.8 2796.6 2071.5Z" fill="#8a5533"/>
</g>
<g clip-path="url(#cFace)">
<ellipse cx="2822" cy="2168" rx="30" ry="26" fill="#c08a5c" filter="url(#b12)" opacity="1"/>
<ellipse cx="2835" cy="2200" rx="24" ry="16" fill="#b07a4e" filter="url(#b6)" opacity="1"/>
<ellipse cx="2830" cy="2075" rx="55" ry="16" fill="#9a643c" filter="url(#b12)" opacity="1" transform="rotate(-20 2830 2075)"/>
<ellipse cx="2905" cy="2190" rx="50" ry="30" fill="#9a6540" filter="url(#b12)" opacity="1" transform="rotate(10 2905 2190)"/>
<ellipse cx="2960" cy="2180" rx="30" ry="50" fill="#6b3d24" filter="url(#b12)" opacity="1" transform="rotate(-30 2960 2180)"/>
<ellipse cx="2805" cy="2103" rx="26" ry="6" fill="#2f1a10" filter="url(#b3)" opacity="1" transform="rotate(-12 2805 2103)"/>
<ellipse cx="2885" cy="2120" rx="38" ry="7" fill="#2f1a10" filter="url(#b3)" opacity="1" transform="rotate(14 2885 2120)"/>
<ellipse cx="2808" cy="2143" rx="15" ry="9" fill="#4a2a18" filter="url(#b3)" opacity="1"/>
<ellipse cx="2883" cy="2158" rx="20" ry="10" fill="#4a2a18" filter="url(#b3)" opacity="1" transform="rotate(8 2883 2158)"/>
</g>
<ellipse cx="2808" cy="2143" rx="6" ry="4.5" fill="#1c0f08"/><ellipse cx="2884" cy="2158" rx="7" ry="5" fill="#241408"/>
<path d="M2783.9 2221.2C2785.1 2218.3 2791.8 2213.9 2796.6 2211.9C2801.4 2209.9 2807.1 2209.2 2812.9 2208.9C2818.7 2208.6 2825.3 2209.6 2831.5 2210.3C2837.7 2211 2843.8 2211.9 2850 2213.1C2856.2 2214.3 2862.4 2215.4 2868.6 2217.7C2874.8 2220 2881 2226.6 2887.2 2227C2893.4 2227.4 2898.8 2220.9 2905.8 2220.1C2912.8 2219.3 2921.3 2221.2 2929 2222.4C2936.7 2223.6 2945.2 2227.4 2952.2 2227C2959.2 2226.6 2965.8 2225.1 2970.8 2220.1C2975.8 2215.1 2978.5 2203 2982.4 2196.8C2986.3 2190.6 2990.1 2183.7 2994 2182.9C2997.9 2182.1 3002.5 2186.8 3005.6 2192.2C3008.7 2197.6 3009.9 2207.7 3012.6 2215.4C3015.3 2223.1 3019.1 2230.9 3021.8 2238.6C3024.5 2246.3 3030.7 2254.8 3028.8 2261.8C3026.9 2268.8 3017.2 2274.6 3010.2 2280.4C3003.2 2286.2 2996.7 2291.3 2987 2296.7C2977.3 2302.1 2965.7 2308.7 2952.2 2312.9C2938.7 2317.2 2921.3 2319.9 2905.8 2322.2C2890.3 2324.5 2872.9 2326.9 2859.3 2326.9C2845.8 2326.9 2834.2 2324.5 2824.5 2322.2C2814.8 2319.9 2806.3 2318.3 2801.3 2312.9C2796.3 2307.5 2794.9 2296.7 2794.3 2289.7C2793.7 2282.7 2795.5 2274.6 2797.8 2271.1C2800.1 2267.6 2803 2268.6 2808.2 2268.8C2813.4 2269 2822.1 2272.3 2829.1 2272.3C2836.1 2272.3 2843.4 2270.9 2850 2268.8C2856.6 2266.7 2864.7 2263 2868.6 2259.5C2872.5 2256 2874.8 2251.4 2873.2 2247.9C2871.6 2244.4 2865.5 2240.9 2859.3 2238.6C2853.1 2236.3 2843.8 2235.2 2836.1 2234C2828.4 2232.8 2819.5 2231.7 2812.9 2231.7C2806.3 2231.7 2800.5 2234.4 2796.6 2234C2792.7 2233.6 2791.8 2231.4 2789.7 2229.3C2787.6 2227.2 2782.8 2224.1 2783.9 2221.2Z" fill="#2b1a11"/>
<path d="M2800.1 2236.3C2803.4 2233.4 2810.7 2234.7 2817.5 2235.1C2824.3 2235.5 2833.3 2236.6 2840.7 2238.6C2848 2240.6 2856.9 2244.3 2861.6 2246.8C2866.2 2249.3 2869 2251.2 2868.6 2253.7C2868.2 2256.2 2864 2259.5 2859.3 2261.8C2854.7 2264.1 2847.3 2266.5 2840.7 2267.7C2834.1 2268.9 2826 2269.4 2819.8 2268.8C2813.6 2268.2 2807.3 2266.9 2803.6 2264.2C2799.9 2261.5 2798.4 2257.2 2797.8 2252.6C2797.2 2247.9 2796.8 2239.2 2800.1 2236.3Z" fill="#8f5c48"/>
<path d="M2801.3 2250.2C2801.3 2249.3 2816.4 2248.9 2824.5 2249.1C2832.6 2249.3 2843 2250.5 2850 2251.4C2857 2252.3 2866.3 2253.8 2866.3 2254.4C2866.3 2255.1 2857 2255.3 2850 2255.3C2843 2255.3 2832.6 2255.2 2824.5 2254.4C2816.4 2253.6 2801.3 2251.1 2801.3 2250.2Z" fill="#5a2f22" stroke="none"/>
<path d="M3006.8 2182.9C3008.4 2180.2 3013.9 2179.4 3017.2 2180.6C3020.5 2181.8 3024.8 2185.7 3026.5 2189.9C3028.2 2194.2 3028.7 2201.1 3027.7 2206.1C3026.7 2211.1 3023.4 2217.4 3020.7 2220.1C3018 2222.8 3013.7 2223.9 3011.4 2222.4C3009.1 2220.9 3007.4 2215.1 3006.8 2210.8C3006.2 2206.5 3007.9 2201.5 3007.9 2196.8C3007.9 2192.2 3005.2 2185.6 3006.8 2182.9Z" fill="#7e4a30"/>
<path d="M2926.6 2157.4C2926 2154.3 2927.1 2149.5 2929 2145.8C2930.9 2142.1 2934.4 2138.2 2938.3 2135.3C2942.2 2132.4 2946.8 2130.2 2952.2 2128.3C2957.6 2126.4 2965 2124.2 2970.8 2123.7C2976.6 2123.2 2982.4 2124.1 2987 2125.3C2991.6 2126.5 2996.8 2128.8 2998.6 2130.7C3000.3 2132.6 2998.8 2135 2997.5 2136.5C2996.2 2138 2992.2 2137.2 2990.5 2139.9C2988.8 2142.6 2988.2 2147.8 2987 2152.7C2985.8 2157.5 2985.8 2164.7 2983.5 2169C2981.2 2173.3 2976.8 2176.2 2973.1 2178.3C2969.4 2180.4 2964.4 2181.9 2961.5 2181.7C2958.6 2181.5 2955.3 2179 2955.7 2177.1C2956.1 2175.2 2960.9 2172.6 2963.8 2170.1C2966.7 2167.6 2971.2 2165.7 2973.1 2162C2975 2158.3 2976.2 2151.6 2975.4 2148.1C2974.6 2144.6 2971.5 2142.1 2968.4 2141.1C2965.3 2140.1 2961.1 2140.8 2956.8 2142.3C2952.6 2143.9 2947 2146.7 2942.9 2150.4C2938.8 2154.1 2935.2 2163.1 2932.5 2164.3C2929.8 2165.5 2927.2 2160.5 2926.6 2157.4Z" fill="#d6cfc0"/>
<g clip-path="url(#cHead)">
<ellipse cx="2948" cy="2146" rx="16" ry="5" fill="#9a9488" filter="url(#b3)" opacity="1" transform="rotate(-32 2948 2146)"/>
<ellipse cx="2985" cy="2160" rx="5" ry="16" fill="#a8a090" filter="url(#b3)" opacity="1" transform="rotate(15 2985 2160)"/>
</g>
<path d="M2480 3289L2481.2 3289.4L2483 3290L2485.2 3290.4L2487.5 3290.2L2489.5 3289.8L2491.1 3289.4L2493.3 3288.4L2497.2 3285.9L2502.1 3282.4L2507.8 3278L2516 3271.7L2528.2 3262.2L2546 3248.4L2568.2 3231.3L2592.2 3212.7L2616 3194.6L2639.1 3177.4L2662.9 3159.9L2687 3142.1L2711.3 3123.6L2735.6 3104.4L2759.8 3084.6L2784.2 3064.6L2808.6 3044.7L2833.4 3025L2858.5 3005.2L2883.7 2985.2L2908.9 2964.8L2933.9 2943.8L2958.6 2922.5L2983.4 2901.5L3008.6 2881L3033.9 2862L3059.5 2843.7L3086.6 2824.7L3116.2 2803.3L3150.5 2778L3188.1 2750L3225.2 2722.3L3258.1 2698.1L3284.9 2678.9L3308.2 2662.7L3330.2 2647.4L3353 2630.9L3376.9 2612.9L3400.7 2594.6L3424.4 2576L3448.2 2557.4L3472 2538.7L3496 2519.8L3519.7 2500.9L3543.1 2482.2L3566.1 2463.6L3588.7 2445.1L3611 2426.7L3632.9 2408.5L3654.7 2390.2L3676.4 2371.8L3697.1 2354.1L3716.3 2337.9L3733.7 2323.3L3749.9 2309.8L3764.8 2297.4L3778.4 2286.1L3790.4 2276L3800.9 2267.3L3810.4 2259.3L3819.3 2251.6L3827.7 2244.2L3835.4 2237.3L3842.3 2230.8L3848.5 2224.8L3853.9 2219L3858.5 2213.6L3862.1 2209.1L3864.6 2205.9L3864 2205.1L3860.6 2207.4L3855.7 2210.6L3849.9 2214.4L3843.5 2218.6L3836.3 2223.1L3828.3 2228L3819.5 2233.5L3810.1 2239.8L3800.4 2246.5L3790.3 2253.7L3779.2 2261.8L3766.6 2271.1L3752.4 2281.6L3736.8 2293.2L3719.9 2306L3701.7 2320.1L3682 2336L3660.9 2353.4L3639.1 2371.5L3617.1 2389.5L3595.1 2407.3L3572.7 2425.3L3549.9 2443.5L3526.9 2461.8L3503.5 2480.4L3479.7 2499.2L3455.7 2518L3431.8 2536.6L3408.1 2555L3384.3 2573.4L3360.6 2591.5L3337 2609.1L3314.5 2625.2L3292.7 2640.3L3269.2 2656.5L3241.9 2675.9L3208.8 2700.1L3171.5 2727.7L3133.9 2755.5L3099.8 2780.7L3070.3 2801.8L3043.3 2820.9L3017.4 2839.4L2991.4 2859L2965.5 2879.9L2940.4 2901.2L2915.7 2922.5L2891.1 2943.2L2866.2 2963.4L2841.2 2983.4L2816.2 3003.4L2791.4 3023.3L2766.8 3043.4L2742.5 3063.5L2718.5 3083.3L2694.7 3102.4L2670.9 3120.7L2647 3138.5L2623.3 3156L2600 3173.4L2576.1 3191.6L2551.8 3210.1L2529.6 3227.1L2511.8 3240.8L2499.4 3250.3L2491.2 3256.6L2485.5 3261.1L2480.8 3265.1L2477.3 3268.5L2475.5 3270.7L2474.8 3272.3L2474.5 3273.8L2474.1 3275.8L2474 3277.8L2474.1 3279.7L2474 3281Z" fill="#6f5032"/>
<path d="M2808.6 3044.8L2826.6 3030.5L2852.4 3010.1L2881.4 2987L2908.9 2964.8L2933.9 2943.8L2958.6 2922.5L2983.4 2901.5L3008.6 2881L3033.9 2862L3059.5 2843.7L3086.6 2824.7L3116.2 2803.3L3150.5 2778L3188.1 2750L3225.2 2722.3L3258.1 2698.1L3284.9 2678.9L3308.2 2662.7L3330.2 2647.4L3353 2630.9L3376.9 2612.9L3400.7 2594.6L3424.4 2576L3448.2 2557.4L3472 2538.7L3496 2519.8L3519.7 2500.9L3543.1 2482.2L3566.1 2463.6L3588.7 2445.1L3611 2426.7L3632.9 2408.5L3654.7 2390.2L3676.4 2371.8L3697.1 2354.1L3716.3 2337.9L3733.7 2323.3L3749.9 2309.8L3764.8 2297.4L3778.4 2286.1L3790.4 2276L3800.9 2267.3L3810.4 2259.3L3819.3 2251.6L3827.7 2244.2L3835.4 2237.3L3842.3 2230.8L3848.5 2224.8L3853.9 2219L3858.5 2213.6L3862.1 2209.1L3864.6 2205.9L3864 2205.1L3860.6 2207.4L3855.7 2210.6L3849.9 2214.4L3843.5 2218.6L3836.3 2223.1L3828.3 2228L3819.5 2233.5L3810.1 2239.8L3800.4 2246.5L3790.3 2253.7L3779.2 2261.8L3766.6 2271.1L3752.4 2281.6L3736.8 2293.2L3719.9 2306L3701.7 2320.1L3682 2336L3660.9 2353.4L3639.1 2371.5L3617.1 2389.5L3595.1 2407.3L3572.7 2425.3L3549.9 2443.5L3526.9 2461.8L3503.5 2480.4L3479.7 2499.2L3455.7 2518L3431.8 2536.6L3408.1 2555L3384.3 2573.4L3360.6 2591.5L3337 2609.1L3314.5 2625.2L3292.7 2640.3L3269.2 2656.5L3241.9 2675.9L3208.8 2700.1L3171.5 2727.7L3133.9 2755.5L3099.8 2780.7L3070.3 2801.8L3043.3 2820.9L3017.4 2839.4L2991.4 2859L2965.5 2879.9L2940.4 2901.2L2915.7 2922.5L2891.1 2943.2L2863.9 2965.3L2835.1 2988.4L2809.4 3008.9L2791.4 3023.2Z" fill="#8c7147" opacity="0.75"/>
<path d="M2478.2 3287.2L2479.1 3287.2L2480.4 3287.2L2482.1 3287L2484 3286.4L2485.6 3285.7L2487.1 3284.9L2489.3 3283.5L2493.2 3280.8L2498 3277.1L2503.8 3272.7L2512 3266.3L2524.2 3256.9L2542.1 3243.1L2564.2 3226L2588.3 3207.4L2612.1 3189.3L2635.3 3172L2659 3154.6L2683.1 3136.8L2707.3 3118.3L2731.4 3099.2L2755.6 3079.4L2779.9 3059.4L2804.4 3039.4L2829.2 3019.6L2854.2 2999.8L2879.4 2979.8L2904.5 2959.5L2929.4 2938.6L2954.1 2917.3L2979 2896.1L3004.4 2875.5L3029.9 2856.3L3055.6 2838L3082.7 2818.9L3112.3 2797.6L3146.5 2772.4L3184.1 2744.4L3221.3 2716.8L3254.2 2692.5L3281.2 2673.3L3304.5 2657.1L3326.4 2641.8L3349.1 2625.4L3372.9 2607.6L3396.7 2589.3L3420.4 2570.8L3444.2 2552.2L3468 2533.6L3492 2514.7L3515.8 2495.8L3539.1 2477.1L3562.1 2458.6L3584.8 2440.2L3607.1 2421.9L3629 2403.8L3650.9 2385.6L3672.6 2367.2L3693.4 2349.6L3712.7 2333.5L3730.4 2319L3746.7 2305.6L3761.8 2293.5L3775.5 2282.3L3787.7 2272.5L3798.3 2263.9L3808 2256.1L3817.1 2248.7L3825.7 2241.6L3833.7 2235L3840.9 2228.9L3847.3 2223.3L3852.9 2217.9L3857.8 2212.9L3861.7 2208.6L3864.6 2205.8L3864.1 2205.3L3861.2 2208.1L3856.8 2211.8L3851.5 2216.3L3845.5 2221.1L3838.8 2226.2L3831.2 2231.7L3822.8 2237.8L3813.8 2244.5L3804.5 2251.6L3794.6 2259.2L3783.7 2267.5L3771.4 2277.1L3757.4 2288L3742.1 2299.9L3725.5 2312.9L3707.6 2327.3L3688.1 2343.3L3667.2 2360.8L3645.4 2379L3623.5 2397.1L3601.5 2415.1L3579.2 2433.3L3556.5 2451.6L3533.5 2470L3510.1 2488.6L3486.3 2507.5L3462.3 2526.3L3438.5 2544.9L3414.7 2563.5L3391 2581.9L3367.3 2600.1L3343.6 2617.8L3321 2634L3299.1 2649.2L3275.7 2665.4L3248.6 2684.8L3215.5 2709L3178.3 2736.6L3140.7 2764.5L3106.5 2789.7L3077 2810.9L3049.9 2830L3024.1 2848.4L2998.4 2867.8L2972.7 2888.6L2947.7 2909.8L2923 2931.1L2898.3 2951.9L2873.3 2972.2L2848.2 2992.2L2823.2 3012L2798.4 3031.9L2773.8 3051.9L2749.5 3072L2725.4 3091.8L2701.4 3110.9L2677.5 3129.3L2653.5 3147.1L2629.8 3164.5L2606.5 3181.9L2582.7 3200L2558.5 3218.6L2536.3 3235.6L2518.5 3249.4L2506.2 3258.8L2497.9 3265.2L2492.3 3269.6L2487.5 3273.4L2483.8 3276.4L2482 3278.1L2481 3279.1L2480.1 3280.2L2479 3281.4L2478.1 3282.4L2477.4 3283.3L2476.8 3284Z" fill="#5e422a" opacity="0.9"/>
<path d="M2804.4 3039.4L2822.4 3025.2L2848.2 3004.7L2877.1 2981.6L2904.5 2959.5L2929.4 2938.6L2954.1 2917.3L2979 2896.1L3004.4 2875.5L3029.9 2856.3L3055.6 2838L3082.7 2818.9L3112.3 2797.6L3146.5 2772.4L3184.1 2744.4L3221.3 2716.8L3254.2 2692.5L3281.2 2673.3L3304.5 2657.1L3326.4 2641.8L3349.1 2625.4L3372.9 2607.6L3396.7 2589.3L3420.4 2570.8L3444.2 2552.2L3468 2533.6L3492 2514.7L3515.8 2495.8L3539.1 2477.1L3562.1 2458.6L3584.8 2440.2L3607.1 2421.9L3629 2403.8L3650.9 2385.6L3672.6 2367.2L3693.4 2349.6L3712.7 2333.5L3730.4 2319L3746.7 2305.6L3761.8 2293.5L3775.5 2282.3L3787.7 2272.5L3798.3 2263.9L3808 2256.1L3817.1 2248.7L3825.7 2241.6L3833.7 2235L3840.9 2228.9L3847.3 2223.3L3852.9 2217.9L3857.8 2212.9L3861.7 2208.6L3864.6 2205.8L3864.1 2205.3L3861.2 2208.1L3856.8 2211.8L3851.5 2216.3L3845.5 2221.1L3838.8 2226.2L3831.2 2231.7L3822.8 2237.8L3813.8 2244.5L3804.5 2251.6L3794.6 2259.2L3783.7 2267.5L3771.4 2277.1L3757.4 2288L3742.1 2299.9L3725.5 2312.9L3707.6 2327.3L3688.1 2343.3L3667.2 2360.8L3645.4 2379L3623.5 2397.1L3601.5 2415.1L3579.2 2433.3L3556.5 2451.6L3533.5 2470L3510.1 2488.6L3486.3 2507.5L3462.3 2526.3L3438.5 2544.9L3414.7 2563.5L3391 2581.9L3367.3 2600.1L3343.6 2617.8L3321 2634L3299.1 2649.2L3275.7 2665.4L3248.6 2684.8L3215.5 2709L3178.3 2736.6L3140.7 2764.5L3106.5 2789.7L3077 2810.9L3049.9 2830L3024.1 2848.4L2998.4 2867.8L2972.7 2888.6L2947.7 2909.8L2923 2931.1L2898.3 2951.9L2871 2974L2842.1 2997.1L2816.3 3017.6L2798.4 3031.9Z" fill="#7d6340" opacity="0.9"/>
<path d="M2478.8 3289.4L2479.8 3289.9L2481.4 3290.6L2483.6 3291.1L2486.1 3291.1L2488.1 3290.8L2490.3 3290.2L2493 3288.8L2497.1 3286.2L2502.2 3282.5L2508 3278.1L2516.2 3271.7L2528.4 3262.3L2546.2 3248.5L2568.4 3231.3L2592.5 3212.7L2616.2 3194.6L2639.4 3177.3L2663.2 3159.9L2687.3 3142.1L2711.4 3123.7L2735.6 3104.6L2759.8 3084.8L2784.2 3064.8L2808.7 3044.9L2833.5 3025.1L2858.5 3005.3L2883.7 2985.4L2908.9 2965L2933.8 2944.1L2958.5 2922.9L2983.3 2901.7L3008.8 2881.1L3034.3 2862L3059.9 2843.6L3087 2824.6L3116.6 2803.2L3150.8 2777.9L3188.4 2749.9L3225.5 2722.3L3258.5 2698.1L3285.4 2678.8L3308.7 2662.5L3330.6 2647.2L3353.3 2630.8L3377.1 2612.9L3400.9 2594.6L3424.6 2576.1L3448.3 2557.5L3472.1 2538.8L3496.1 2519.9L3519.8 2501L3543.2 2482.3L3566.1 2463.7L3588.7 2445.2L3611 2426.9L3632.9 2408.7L3654.7 2390.4L3676.3 2372L3697.1 2354.3L3716.3 2338.1L3733.8 2323.4L3750.1 2309.8L3764.9 2297.4L3778.5 2286.1L3790.5 2276.1L3801 2267.3L3810.6 2259.3L3819.5 2251.6L3827.9 2244.2L3835.6 2237.2L3842.5 2230.8L3848.6 2224.8L3853.9 2219L3858.5 2213.6L3862.1 2209.1L3864.7 2205.9L3864.3 2205.5L3861.4 2208.5L3857.3 2212.5L3852.2 2217.3L3846.4 2222.5L3839.9 2227.8L3832.5 2233.7L3824.4 2240.1L3815.6 2247L3806.4 2254.3L3796.7 2262L3786 2270.5L3773.7 2280.2L3759.9 2291.2L3744.7 2303.3L3728.2 2316.5L3710.4 2331L3691 2347.1L3670.1 2364.7L3648.4 2382.9L3626.5 2401.1L3604.6 2419.1L3582.3 2437.4L3559.6 2455.7L3536.7 2474.2L3513.3 2492.8L3489.5 2511.7L3465.6 2530.5L3441.8 2549.2L3418 2567.7L3394.3 2586.2L3370.6 2604.4L3346.9 2622.1L3324.4 2638.4L3302.5 2653.6L3279.1 2669.8L3252 2689.1L3219 2713.4L3181.8 2741L3144.2 2769L3110 2794.2L3080.5 2815.4L3053.5 2834.5L3027.6 2852.9L3001.9 2872.3L2976.2 2893.1L2951.2 2914.3L2926.5 2935.6L2901.8 2956.4L2876.7 2976.6L2851.6 2996.6L2826.6 3016.5L2801.8 3036.3L2777.2 3056.3L2752.9 3076.4L2728.8 3096.1L2704.8 3115.2L2680.8 3133.5L2656.8 3151.3L2633.1 3168.8L2609.8 3186.1L2586 3204.3L2561.8 3222.9L2539.7 3240L2521.8 3253.7L2509.5 3263.2L2501.3 3269.5L2495.7 3273.9L2490.9 3277.6L2487.3 3280.3L2485.6 3281.6L2484.9 3282.2L2483.9 3283L2482.6 3283.8L2481.4 3284.5L2480.1 3285L2479 3285.4Z" fill="#3a2a20" opacity="0.9"/>
<path d="M2476.7 3283.3L2477.3 3282.5L2478 3281.4L2478.9 3280.3L2480 3279.1L2481.1 3278L2481.9 3277.1L2483.5 3275.7L2487 3272.8L2491.7 3269L2497.4 3264.6L2505.5 3258.3L2517.8 3248.8L2535.7 3235.1L2557.9 3218L2582 3199.5L2605.9 3181.4L2629 3164.1L2652.8 3146.6L2676.8 3128.8L2700.9 3110.3L2725 3091.1L2749.1 3071.3L2773.4 3051.2L2797.9 3031.2L2822.6 3011.4L2847.7 2991.5L2872.8 2971.5L2897.9 2951.1L2922.7 2930.2L2947.4 2909L2972.3 2887.8L2997.8 2867.2L3023.3 2848L3049 2829.6L3076.1 2810.6L3105.7 2789.3L3139.9 2764L3177.5 2736.1L3214.7 2708.5L3247.7 2684.3L3274.7 2665.1L3298.1 2648.9L3320.1 2633.7L3342.8 2617.4L3366.6 2599.6L3390.4 2581.3L3414.1 2562.9L3437.9 2544.4L3461.8 2525.7L3485.8 2506.9L3509.6 2488L3533 2469.4L3556 2450.9L3578.7 2432.6L3601.1 2414.5L3623.1 2396.5L3645.1 2378.3L3666.8 2360.1L3687.8 2342.6L3707.2 2326.7L3725.1 2312.4L3741.7 2299.4L3757 2287.5L3771 2276.7L3783.3 2267.2L3794.2 2258.8L3804.1 2251.3L3813.5 2244.3L3822.5 2237.6L3830.8 2231.6L3838.5 2226L3845.3 2220.9L3851.4 2216.1L3856.8 2211.7L3861.1 2208L3864.3 2205.5L3864 2205.1L3860.8 2207.5L3856.1 2210.8L3850.4 2214.8L3844 2219.1L3836.9 2223.7L3829 2228.9L3820.3 2234.5L3811 2240.8L3801.4 2247.7L3791.3 2255L3780.3 2263.1L3767.8 2272.5L3753.6 2283.1L3738.1 2294.7L3721.2 2307.5L3703.2 2321.7L3683.6 2337.5L3662.5 2355L3640.7 2373.1L3618.7 2391.1L3596.7 2409L3574.3 2427.1L3551.5 2445.3L3528.4 2463.7L3505 2482.3L3481.2 2501.1L3457.2 2519.9L3433.3 2538.5L3409.6 2557L3385.8 2575.4L3362 2593.6L3338.3 2611.3L3315.7 2627.5L3293.8 2642.6L3270.3 2658.8L3243.2 2678.1L3210.2 2702.3L3172.9 2729.9L3135.3 2757.8L3101.1 2783L3071.5 2804.2L3044.5 2823.2L3018.7 2841.7L2993 2861L2967.3 2881.8L2942.3 2903L2917.6 2924.3L2892.9 2945.1L2867.9 2965.4L2842.8 2985.4L2817.8 3005.3L2793 3025.2L2768.5 3045.3L2744.3 3065.4L2720.2 3085.2L2696.2 3104.4L2672.2 3122.8L2648.3 3140.6L2624.6 3158.1L2601.4 3175.5L2577.5 3193.6L2553.3 3212.1L2531.1 3229.1L2513.2 3242.8L2500.9 3252.3L2492.7 3258.6L2487 3263.1L2482.2 3267.1L2478.6 3270.4L2476.7 3272.7L2475.7 3274.5L2475 3276.1L2474.3 3278.1L2474 3280L2474 3281.5L2474 3282.5Z" fill="#9c835a" opacity="0.9"/>
<path d="M2784.6 2958.7C2784.3 2973.5 2785.3 2983.4 2788.5 2994C2791.7 3004.6 2798.8 3014.3 2804 3022C2809.2 3029.7 2812.7 3036.7 2820 3040C2827.3 3043.3 2838.7 3043.7 2848 3042C2857.3 3040.3 2867.8 3034.7 2875.6 3030C2883.4 3025.3 2890.4 3021.3 2895 3014C2899.6 3006.7 2901.7 2994.6 2903 2986C2904.3 2977.4 2905.6 2969.9 2903 2962.7C2900.4 2955.5 2892.7 2950.3 2887.5 2943C2882.3 2935.7 2878.2 2925.7 2871.6 2919C2865 2912.3 2853.9 2908.2 2848 2903C2842.1 2897.8 2841.5 2891.3 2836 2887.5C2830.5 2883.7 2822.7 2877.1 2815 2880C2807.3 2882.9 2795.1 2891.9 2790 2905C2784.9 2918.1 2784.8 2943.9 2784.6 2958.7Z" fill="#a26c47"/>
<g clip-path="url(#cBody)">
<ellipse cx="2835" cy="2950" rx="30" ry="40" fill="#bd875d" filter="url(#b6)" opacity="1" transform="rotate(-30 2835 2950)"/>
<ellipse cx="2880" cy="2990" rx="25" ry="35" fill="#855233" filter="url(#b6)" opacity="1" transform="rotate(-40 2880 2990)"/>
<ellipse cx="2830" cy="3030" rx="30" ry="10" fill="#75462a" filter="url(#b6)" opacity="1" transform="rotate(20 2830 3030)"/>
</g>
<path d="M3458 2556C3460.3 2548.7 3469.3 2542.3 3478 2535C3486.7 2527.7 3500 2519.2 3510 2512C3520 2504.8 3530.2 2491 3538 2492C3545.8 2493 3555.6 2509.5 3557 2518C3558.4 2526.5 3549.4 2534.1 3546.5 2543C3543.6 2551.9 3543.6 2563.8 3539.4 2571.6C3535.2 2579.3 3530.4 2585.6 3521.5 2589.5C3512.6 2593.4 3495.3 2596.6 3485.8 2594.8C3476.3 2593 3469 2585.2 3464.4 2578.7C3459.8 2572.2 3455.7 2563.3 3458 2556Z" fill="#6d3a22"/>
<ellipse cx="3482" cy="2476" rx="22" ry="12" fill="#6f3e24" transform="rotate(25 3482 2476)"/>
</svg>
</body></html>
